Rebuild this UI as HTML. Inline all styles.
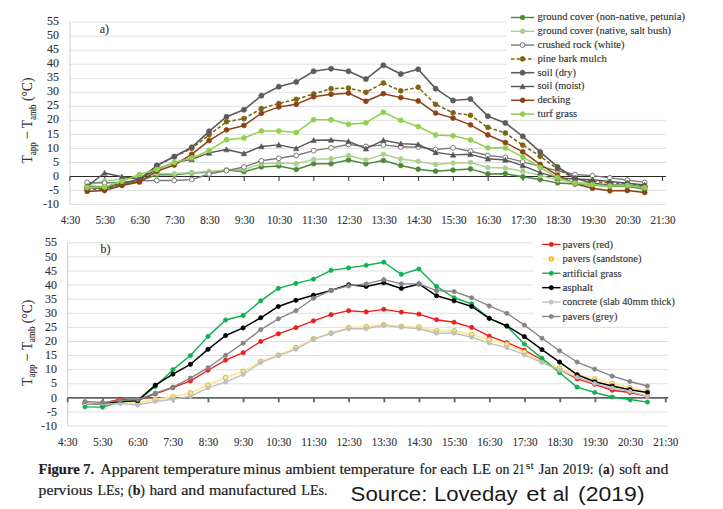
<!DOCTYPE html>
<html><head><meta charset="utf-8"><title>Figure 7</title>
<style>html,body{margin:0;padding:0;background:#fff;}body{width:723px;height:509px;position:relative;overflow:hidden;font-family:"Liberation Serif",serif;}</style></head>
<body>
<svg width="723" height="509" viewBox="0 0 723 509" font-family='"Liberation Serif", serif' style="position:absolute;left:0;top:0">
<style>text{stroke:#333;stroke-width:0.14px;stroke-linejoin:round}.cap text{stroke:#222;stroke-width:0.2px}</style>
<rect width="723" height="509" fill="#fff"/>
<line x1="69.9" y1="204.57" x2="666" y2="204.57" stroke="#e0e0e0" stroke-width="1"/>
<line x1="69.9" y1="190.53" x2="666" y2="190.53" stroke="#e0e0e0" stroke-width="1"/>
<line x1="69.9" y1="162.47" x2="666" y2="162.47" stroke="#e0e0e0" stroke-width="1"/>
<line x1="69.9" y1="148.43" x2="666" y2="148.43" stroke="#e0e0e0" stroke-width="1"/>
<line x1="69.9" y1="134.40" x2="666" y2="134.40" stroke="#e0e0e0" stroke-width="1"/>
<line x1="69.9" y1="120.36" x2="666" y2="120.36" stroke="#e0e0e0" stroke-width="1"/>
<line x1="69.9" y1="106.33" x2="666" y2="106.33" stroke="#e0e0e0" stroke-width="1"/>
<line x1="69.9" y1="92.29" x2="666" y2="92.29" stroke="#e0e0e0" stroke-width="1"/>
<line x1="69.9" y1="78.25" x2="666" y2="78.25" stroke="#e0e0e0" stroke-width="1"/>
<line x1="69.9" y1="64.22" x2="666" y2="64.22" stroke="#e0e0e0" stroke-width="1"/>
<line x1="69.9" y1="50.19" x2="666" y2="50.19" stroke="#e0e0e0" stroke-width="1"/>
<line x1="69.9" y1="36.15" x2="666" y2="36.15" stroke="#e0e0e0" stroke-width="1"/>
<line x1="69.9" y1="22.12" x2="666" y2="22.12" stroke="#e0e0e0" stroke-width="1"/>
<line x1="69.9" y1="22.12" x2="69.9" y2="204.57" stroke="#d0d0d0" stroke-width="1"/>
<rect x="506.5" y="5" width="170" height="113.5" fill="#fff"/>
<line x1="69.9" y1="176.50" x2="666" y2="176.50" stroke="#2a2a2a" stroke-width="1.0"/>
<line x1="69.90" y1="176.50" x2="69.90" y2="181.00" stroke="#2a2a2a" stroke-width="1.0"/>
<line x1="104.75" y1="176.50" x2="104.75" y2="181.00" stroke="#2a2a2a" stroke-width="1.0"/>
<line x1="139.61" y1="176.50" x2="139.61" y2="181.00" stroke="#2a2a2a" stroke-width="1.0"/>
<line x1="174.47" y1="176.50" x2="174.47" y2="181.00" stroke="#2a2a2a" stroke-width="1.0"/>
<line x1="209.32" y1="176.50" x2="209.32" y2="181.00" stroke="#2a2a2a" stroke-width="1.0"/>
<line x1="244.17" y1="176.50" x2="244.17" y2="181.00" stroke="#2a2a2a" stroke-width="1.0"/>
<line x1="279.03" y1="176.50" x2="279.03" y2="181.00" stroke="#2a2a2a" stroke-width="1.0"/>
<line x1="313.88" y1="176.50" x2="313.88" y2="181.00" stroke="#2a2a2a" stroke-width="1.0"/>
<line x1="348.74" y1="176.50" x2="348.74" y2="181.00" stroke="#2a2a2a" stroke-width="1.0"/>
<line x1="383.60" y1="176.50" x2="383.60" y2="181.00" stroke="#2a2a2a" stroke-width="1.0"/>
<line x1="418.45" y1="176.50" x2="418.45" y2="181.00" stroke="#2a2a2a" stroke-width="1.0"/>
<line x1="453.30" y1="176.50" x2="453.30" y2="181.00" stroke="#2a2a2a" stroke-width="1.0"/>
<line x1="488.16" y1="176.50" x2="488.16" y2="181.00" stroke="#2a2a2a" stroke-width="1.0"/>
<line x1="523.01" y1="176.50" x2="523.01" y2="181.00" stroke="#2a2a2a" stroke-width="1.0"/>
<line x1="557.87" y1="176.50" x2="557.87" y2="181.00" stroke="#2a2a2a" stroke-width="1.0"/>
<line x1="592.72" y1="176.50" x2="592.72" y2="181.00" stroke="#2a2a2a" stroke-width="1.0"/>
<line x1="627.58" y1="176.50" x2="627.58" y2="181.00" stroke="#2a2a2a" stroke-width="1.0"/>
<line x1="662.43" y1="176.50" x2="662.43" y2="181.00" stroke="#2a2a2a" stroke-width="1.0"/>
<text x="59" y="207.67" text-anchor="end" font-size="12" fill="#333333">-10</text>
<text x="59" y="193.63" text-anchor="end" font-size="12" fill="#333333">-5</text>
<text x="59" y="179.60" text-anchor="end" font-size="12" fill="#333333">0</text>
<text x="59" y="165.56" text-anchor="end" font-size="12" fill="#333333">5</text>
<text x="59" y="151.53" text-anchor="end" font-size="12" fill="#333333">10</text>
<text x="59" y="137.50" text-anchor="end" font-size="12" fill="#333333">15</text>
<text x="59" y="123.46" text-anchor="end" font-size="12" fill="#333333">20</text>
<text x="59" y="109.42" text-anchor="end" font-size="12" fill="#333333">25</text>
<text x="59" y="95.39" text-anchor="end" font-size="12" fill="#333333">30</text>
<text x="59" y="81.35" text-anchor="end" font-size="12" fill="#333333">35</text>
<text x="59" y="67.32" text-anchor="end" font-size="12" fill="#333333">40</text>
<text x="59" y="53.29" text-anchor="end" font-size="12" fill="#333333">45</text>
<text x="59" y="39.25" text-anchor="end" font-size="12" fill="#333333">50</text>
<text x="59" y="25.22" text-anchor="end" font-size="12" fill="#333333">55</text>
<text x="70.50" y="224.0" text-anchor="middle" font-size="12" fill="#333333" textLength="19.4" lengthAdjust="spacingAndGlyphs">4:30</text>
<text x="105.35" y="224.0" text-anchor="middle" font-size="12" fill="#333333" textLength="19.4" lengthAdjust="spacingAndGlyphs">5:30</text>
<text x="140.21" y="224.0" text-anchor="middle" font-size="12" fill="#333333" textLength="19.4" lengthAdjust="spacingAndGlyphs">6:30</text>
<text x="175.06" y="224.0" text-anchor="middle" font-size="12" fill="#333333" textLength="19.4" lengthAdjust="spacingAndGlyphs">7:30</text>
<text x="209.92" y="224.0" text-anchor="middle" font-size="12" fill="#333333" textLength="19.4" lengthAdjust="spacingAndGlyphs">8:30</text>
<text x="244.77" y="224.0" text-anchor="middle" font-size="12" fill="#333333" textLength="19.4" lengthAdjust="spacingAndGlyphs">9:30</text>
<text x="279.63" y="224.0" text-anchor="middle" font-size="12" fill="#333333" textLength="25.2" lengthAdjust="spacingAndGlyphs">10:30</text>
<text x="314.49" y="224.0" text-anchor="middle" font-size="12" fill="#333333" textLength="25.2" lengthAdjust="spacingAndGlyphs">11:30</text>
<text x="349.34" y="224.0" text-anchor="middle" font-size="12" fill="#333333" textLength="25.2" lengthAdjust="spacingAndGlyphs">12:30</text>
<text x="384.20" y="224.0" text-anchor="middle" font-size="12" fill="#333333" textLength="25.2" lengthAdjust="spacingAndGlyphs">13:30</text>
<text x="419.05" y="224.0" text-anchor="middle" font-size="12" fill="#333333" textLength="25.2" lengthAdjust="spacingAndGlyphs">14:30</text>
<text x="453.90" y="224.0" text-anchor="middle" font-size="12" fill="#333333" textLength="25.2" lengthAdjust="spacingAndGlyphs">15:30</text>
<text x="488.76" y="224.0" text-anchor="middle" font-size="12" fill="#333333" textLength="25.2" lengthAdjust="spacingAndGlyphs">16:30</text>
<text x="523.62" y="224.0" text-anchor="middle" font-size="12" fill="#333333" textLength="25.2" lengthAdjust="spacingAndGlyphs">17:30</text>
<text x="558.47" y="224.0" text-anchor="middle" font-size="12" fill="#333333" textLength="25.2" lengthAdjust="spacingAndGlyphs">18:30</text>
<text x="593.32" y="224.0" text-anchor="middle" font-size="12" fill="#333333" textLength="25.2" lengthAdjust="spacingAndGlyphs">19:30</text>
<text x="628.18" y="224.0" text-anchor="middle" font-size="12" fill="#333333" textLength="25.2" lengthAdjust="spacingAndGlyphs">20:30</text>
<text x="663.03" y="224.0" text-anchor="middle" font-size="12" fill="#333333" textLength="25.2" lengthAdjust="spacingAndGlyphs">21:30</text>
<polyline fill="none" stroke="#4c8a38" stroke-width="1.45" stroke-linejoin="round" stroke-linecap="round" points="87.12,186.32 104.55,186.61 121.98,183.52 139.40,180.71 156.82,174.82 174.25,174.82 191.68,173.13 209.10,172.29 226.53,170.04 243.95,171.73 261.38,166.96 278.80,165.97 296.23,169.48 313.65,163.73 331.07,163.73 348.50,159.94 365.93,163.87 383.35,160.50 400.77,165.55 418.20,169.20 435.62,171.17 453.05,170.04 470.48,168.92 487.90,173.97 505.32,173.69 522.75,176.78 540.18,179.59 557.60,182.96 575.03,184.08 592.45,184.92 609.88,186.32 627.30,186.32 644.73,189.41"/>
<circle cx="87.12" cy="186.32" r="2.35" fill="#4c8a38" stroke="#4c8a38" stroke-width="0.8"/>
<circle cx="104.55" cy="186.61" r="2.35" fill="#4c8a38" stroke="#4c8a38" stroke-width="0.8"/>
<circle cx="121.98" cy="183.52" r="2.35" fill="#4c8a38" stroke="#4c8a38" stroke-width="0.8"/>
<circle cx="139.40" cy="180.71" r="2.35" fill="#4c8a38" stroke="#4c8a38" stroke-width="0.8"/>
<circle cx="156.82" cy="174.82" r="2.35" fill="#4c8a38" stroke="#4c8a38" stroke-width="0.8"/>
<circle cx="174.25" cy="174.82" r="2.35" fill="#4c8a38" stroke="#4c8a38" stroke-width="0.8"/>
<circle cx="191.68" cy="173.13" r="2.35" fill="#4c8a38" stroke="#4c8a38" stroke-width="0.8"/>
<circle cx="209.10" cy="172.29" r="2.35" fill="#4c8a38" stroke="#4c8a38" stroke-width="0.8"/>
<circle cx="226.53" cy="170.04" r="2.35" fill="#4c8a38" stroke="#4c8a38" stroke-width="0.8"/>
<circle cx="243.95" cy="171.73" r="2.35" fill="#4c8a38" stroke="#4c8a38" stroke-width="0.8"/>
<circle cx="261.38" cy="166.96" r="2.35" fill="#4c8a38" stroke="#4c8a38" stroke-width="0.8"/>
<circle cx="278.80" cy="165.97" r="2.35" fill="#4c8a38" stroke="#4c8a38" stroke-width="0.8"/>
<circle cx="296.23" cy="169.48" r="2.35" fill="#4c8a38" stroke="#4c8a38" stroke-width="0.8"/>
<circle cx="313.65" cy="163.73" r="2.35" fill="#4c8a38" stroke="#4c8a38" stroke-width="0.8"/>
<circle cx="331.07" cy="163.73" r="2.35" fill="#4c8a38" stroke="#4c8a38" stroke-width="0.8"/>
<circle cx="348.50" cy="159.94" r="2.35" fill="#4c8a38" stroke="#4c8a38" stroke-width="0.8"/>
<circle cx="365.93" cy="163.87" r="2.35" fill="#4c8a38" stroke="#4c8a38" stroke-width="0.8"/>
<circle cx="383.35" cy="160.50" r="2.35" fill="#4c8a38" stroke="#4c8a38" stroke-width="0.8"/>
<circle cx="400.77" cy="165.55" r="2.35" fill="#4c8a38" stroke="#4c8a38" stroke-width="0.8"/>
<circle cx="418.20" cy="169.20" r="2.35" fill="#4c8a38" stroke="#4c8a38" stroke-width="0.8"/>
<circle cx="435.62" cy="171.17" r="2.35" fill="#4c8a38" stroke="#4c8a38" stroke-width="0.8"/>
<circle cx="453.05" cy="170.04" r="2.35" fill="#4c8a38" stroke="#4c8a38" stroke-width="0.8"/>
<circle cx="470.48" cy="168.92" r="2.35" fill="#4c8a38" stroke="#4c8a38" stroke-width="0.8"/>
<circle cx="487.90" cy="173.97" r="2.35" fill="#4c8a38" stroke="#4c8a38" stroke-width="0.8"/>
<circle cx="505.32" cy="173.69" r="2.35" fill="#4c8a38" stroke="#4c8a38" stroke-width="0.8"/>
<circle cx="522.75" cy="176.78" r="2.35" fill="#4c8a38" stroke="#4c8a38" stroke-width="0.8"/>
<circle cx="540.18" cy="179.59" r="2.35" fill="#4c8a38" stroke="#4c8a38" stroke-width="0.8"/>
<circle cx="557.60" cy="182.96" r="2.35" fill="#4c8a38" stroke="#4c8a38" stroke-width="0.8"/>
<circle cx="575.03" cy="184.08" r="2.35" fill="#4c8a38" stroke="#4c8a38" stroke-width="0.8"/>
<circle cx="592.45" cy="184.92" r="2.35" fill="#4c8a38" stroke="#4c8a38" stroke-width="0.8"/>
<circle cx="609.88" cy="186.32" r="2.35" fill="#4c8a38" stroke="#4c8a38" stroke-width="0.8"/>
<circle cx="627.30" cy="186.32" r="2.35" fill="#4c8a38" stroke="#4c8a38" stroke-width="0.8"/>
<circle cx="644.73" cy="189.41" r="2.35" fill="#4c8a38" stroke="#4c8a38" stroke-width="0.8"/>
<polyline fill="none" stroke="#a9d18e" stroke-width="1.45" stroke-linejoin="round" stroke-linecap="round" points="87.12,184.92 104.55,180.99 121.98,179.31 139.40,176.50 156.82,173.41 174.25,173.69 191.68,172.57 209.10,171.45 226.53,170.04 243.95,169.48 261.38,163.87 278.80,163.03 296.23,163.87 313.65,159.38 331.07,158.82 348.50,155.45 365.93,159.94 383.35,154.32 400.77,158.96 418.20,161.34 435.62,164.43 453.05,163.03 470.48,162.47 487.90,167.52 505.32,168.08 522.75,171.17 540.18,175.38 557.60,180.01 575.03,182.39 592.45,183.52 609.88,184.92 627.30,184.92 644.73,186.32"/>
<circle cx="87.12" cy="184.92" r="2.35" fill="#a9d18e" stroke="#a9d18e" stroke-width="0.8"/>
<circle cx="104.55" cy="180.99" r="2.35" fill="#a9d18e" stroke="#a9d18e" stroke-width="0.8"/>
<circle cx="121.98" cy="179.31" r="2.35" fill="#a9d18e" stroke="#a9d18e" stroke-width="0.8"/>
<circle cx="139.40" cy="176.50" r="2.35" fill="#a9d18e" stroke="#a9d18e" stroke-width="0.8"/>
<circle cx="156.82" cy="173.41" r="2.35" fill="#a9d18e" stroke="#a9d18e" stroke-width="0.8"/>
<circle cx="174.25" cy="173.69" r="2.35" fill="#a9d18e" stroke="#a9d18e" stroke-width="0.8"/>
<circle cx="191.68" cy="172.57" r="2.35" fill="#a9d18e" stroke="#a9d18e" stroke-width="0.8"/>
<circle cx="209.10" cy="171.45" r="2.35" fill="#a9d18e" stroke="#a9d18e" stroke-width="0.8"/>
<circle cx="226.53" cy="170.04" r="2.35" fill="#a9d18e" stroke="#a9d18e" stroke-width="0.8"/>
<circle cx="243.95" cy="169.48" r="2.35" fill="#a9d18e" stroke="#a9d18e" stroke-width="0.8"/>
<circle cx="261.38" cy="163.87" r="2.35" fill="#a9d18e" stroke="#a9d18e" stroke-width="0.8"/>
<circle cx="278.80" cy="163.03" r="2.35" fill="#a9d18e" stroke="#a9d18e" stroke-width="0.8"/>
<circle cx="296.23" cy="163.87" r="2.35" fill="#a9d18e" stroke="#a9d18e" stroke-width="0.8"/>
<circle cx="313.65" cy="159.38" r="2.35" fill="#a9d18e" stroke="#a9d18e" stroke-width="0.8"/>
<circle cx="331.07" cy="158.82" r="2.35" fill="#a9d18e" stroke="#a9d18e" stroke-width="0.8"/>
<circle cx="348.50" cy="155.45" r="2.35" fill="#a9d18e" stroke="#a9d18e" stroke-width="0.8"/>
<circle cx="365.93" cy="159.94" r="2.35" fill="#a9d18e" stroke="#a9d18e" stroke-width="0.8"/>
<circle cx="383.35" cy="154.32" r="2.35" fill="#a9d18e" stroke="#a9d18e" stroke-width="0.8"/>
<circle cx="400.77" cy="158.96" r="2.35" fill="#a9d18e" stroke="#a9d18e" stroke-width="0.8"/>
<circle cx="418.20" cy="161.34" r="2.35" fill="#a9d18e" stroke="#a9d18e" stroke-width="0.8"/>
<circle cx="435.62" cy="164.43" r="2.35" fill="#a9d18e" stroke="#a9d18e" stroke-width="0.8"/>
<circle cx="453.05" cy="163.03" r="2.35" fill="#a9d18e" stroke="#a9d18e" stroke-width="0.8"/>
<circle cx="470.48" cy="162.47" r="2.35" fill="#a9d18e" stroke="#a9d18e" stroke-width="0.8"/>
<circle cx="487.90" cy="167.52" r="2.35" fill="#a9d18e" stroke="#a9d18e" stroke-width="0.8"/>
<circle cx="505.32" cy="168.08" r="2.35" fill="#a9d18e" stroke="#a9d18e" stroke-width="0.8"/>
<circle cx="522.75" cy="171.17" r="2.35" fill="#a9d18e" stroke="#a9d18e" stroke-width="0.8"/>
<circle cx="540.18" cy="175.38" r="2.35" fill="#a9d18e" stroke="#a9d18e" stroke-width="0.8"/>
<circle cx="557.60" cy="180.01" r="2.35" fill="#a9d18e" stroke="#a9d18e" stroke-width="0.8"/>
<circle cx="575.03" cy="182.39" r="2.35" fill="#a9d18e" stroke="#a9d18e" stroke-width="0.8"/>
<circle cx="592.45" cy="183.52" r="2.35" fill="#a9d18e" stroke="#a9d18e" stroke-width="0.8"/>
<circle cx="609.88" cy="184.92" r="2.35" fill="#a9d18e" stroke="#a9d18e" stroke-width="0.8"/>
<circle cx="627.30" cy="184.92" r="2.35" fill="#a9d18e" stroke="#a9d18e" stroke-width="0.8"/>
<circle cx="644.73" cy="186.32" r="2.35" fill="#a9d18e" stroke="#a9d18e" stroke-width="0.8"/>
<polyline fill="none" stroke="#7a7a7a" stroke-width="1.4" stroke-linejoin="round" stroke-linecap="round" points="87.12,182.39 104.55,182.96 121.98,182.11 139.40,180.71 156.82,180.43 174.25,180.43 191.68,179.59 209.10,173.97 226.53,170.61 243.95,166.96 261.38,160.78 278.80,158.25 296.23,155.45 313.65,150.68 331.07,147.87 348.50,144.50 365.93,146.47 383.35,144.92 400.77,147.03 418.20,147.03 435.62,149.55 453.05,147.87 470.48,151.24 487.90,155.45 505.32,157.41 522.75,161.90 540.18,166.39 557.60,170.89 575.03,174.54 592.45,175.66 609.88,177.90 627.30,180.01 644.73,182.39"/>
<circle cx="87.12" cy="182.39" r="2.4" fill="#ffffff" stroke="#7a7a7a" stroke-width="1.0"/>
<circle cx="104.55" cy="182.96" r="2.4" fill="#ffffff" stroke="#7a7a7a" stroke-width="1.0"/>
<circle cx="121.98" cy="182.11" r="2.4" fill="#ffffff" stroke="#7a7a7a" stroke-width="1.0"/>
<circle cx="139.40" cy="180.71" r="2.4" fill="#ffffff" stroke="#7a7a7a" stroke-width="1.0"/>
<circle cx="156.82" cy="180.43" r="2.4" fill="#ffffff" stroke="#7a7a7a" stroke-width="1.0"/>
<circle cx="174.25" cy="180.43" r="2.4" fill="#ffffff" stroke="#7a7a7a" stroke-width="1.0"/>
<circle cx="191.68" cy="179.59" r="2.4" fill="#ffffff" stroke="#7a7a7a" stroke-width="1.0"/>
<circle cx="209.10" cy="173.97" r="2.4" fill="#ffffff" stroke="#7a7a7a" stroke-width="1.0"/>
<circle cx="226.53" cy="170.61" r="2.4" fill="#ffffff" stroke="#7a7a7a" stroke-width="1.0"/>
<circle cx="243.95" cy="166.96" r="2.4" fill="#ffffff" stroke="#7a7a7a" stroke-width="1.0"/>
<circle cx="261.38" cy="160.78" r="2.4" fill="#ffffff" stroke="#7a7a7a" stroke-width="1.0"/>
<circle cx="278.80" cy="158.25" r="2.4" fill="#ffffff" stroke="#7a7a7a" stroke-width="1.0"/>
<circle cx="296.23" cy="155.45" r="2.4" fill="#ffffff" stroke="#7a7a7a" stroke-width="1.0"/>
<circle cx="313.65" cy="150.68" r="2.4" fill="#ffffff" stroke="#7a7a7a" stroke-width="1.0"/>
<circle cx="331.07" cy="147.87" r="2.4" fill="#ffffff" stroke="#7a7a7a" stroke-width="1.0"/>
<circle cx="348.50" cy="144.50" r="2.4" fill="#ffffff" stroke="#7a7a7a" stroke-width="1.0"/>
<circle cx="365.93" cy="146.47" r="2.4" fill="#ffffff" stroke="#7a7a7a" stroke-width="1.0"/>
<circle cx="383.35" cy="144.92" r="2.4" fill="#ffffff" stroke="#7a7a7a" stroke-width="1.0"/>
<circle cx="400.77" cy="147.03" r="2.4" fill="#ffffff" stroke="#7a7a7a" stroke-width="1.0"/>
<circle cx="418.20" cy="147.03" r="2.4" fill="#ffffff" stroke="#7a7a7a" stroke-width="1.0"/>
<circle cx="435.62" cy="149.55" r="2.4" fill="#ffffff" stroke="#7a7a7a" stroke-width="1.0"/>
<circle cx="453.05" cy="147.87" r="2.4" fill="#ffffff" stroke="#7a7a7a" stroke-width="1.0"/>
<circle cx="470.48" cy="151.24" r="2.4" fill="#ffffff" stroke="#7a7a7a" stroke-width="1.0"/>
<circle cx="487.90" cy="155.45" r="2.4" fill="#ffffff" stroke="#7a7a7a" stroke-width="1.0"/>
<circle cx="505.32" cy="157.41" r="2.4" fill="#ffffff" stroke="#7a7a7a" stroke-width="1.0"/>
<circle cx="522.75" cy="161.90" r="2.4" fill="#ffffff" stroke="#7a7a7a" stroke-width="1.0"/>
<circle cx="540.18" cy="166.39" r="2.4" fill="#ffffff" stroke="#7a7a7a" stroke-width="1.0"/>
<circle cx="557.60" cy="170.89" r="2.4" fill="#ffffff" stroke="#7a7a7a" stroke-width="1.0"/>
<circle cx="575.03" cy="174.54" r="2.4" fill="#ffffff" stroke="#7a7a7a" stroke-width="1.0"/>
<circle cx="592.45" cy="175.66" r="2.4" fill="#ffffff" stroke="#7a7a7a" stroke-width="1.0"/>
<circle cx="609.88" cy="177.90" r="2.4" fill="#ffffff" stroke="#7a7a7a" stroke-width="1.0"/>
<circle cx="627.30" cy="180.01" r="2.4" fill="#ffffff" stroke="#7a7a7a" stroke-width="1.0"/>
<circle cx="644.73" cy="182.39" r="2.4" fill="#ffffff" stroke="#7a7a7a" stroke-width="1.0"/>
<polyline fill="none" stroke="#806410" stroke-width="1.55" stroke-linejoin="round" stroke-linecap="butt" stroke-dasharray="3.6 2.1" points="87.12,189.13 104.55,189.41 121.98,184.92 139.40,180.99 156.82,165.55 174.25,156.85 191.68,148.43 209.10,134.96 226.53,121.76 243.95,118.68 261.38,108.57 278.80,103.52 296.23,99.31 313.65,93.97 331.07,88.64 348.50,88.08 365.93,92.29 383.35,83.03 400.77,90.89 418.20,87.24 435.62,104.36 453.05,112.78 470.48,115.31 487.90,127.38 505.32,132.99 522.75,145.06 540.18,156.29 557.60,168.92 575.03,178.75 592.45,181.27 609.88,182.96 627.30,183.24 644.73,185.76"/>
<circle cx="87.12" cy="189.13" r="2.4" fill="#806410" stroke="#806410" stroke-width="0.8"/>
<circle cx="104.55" cy="189.41" r="2.4" fill="#806410" stroke="#806410" stroke-width="0.8"/>
<circle cx="121.98" cy="184.92" r="2.4" fill="#806410" stroke="#806410" stroke-width="0.8"/>
<circle cx="139.40" cy="180.99" r="2.4" fill="#806410" stroke="#806410" stroke-width="0.8"/>
<circle cx="156.82" cy="165.55" r="2.4" fill="#806410" stroke="#806410" stroke-width="0.8"/>
<circle cx="174.25" cy="156.85" r="2.4" fill="#806410" stroke="#806410" stroke-width="0.8"/>
<circle cx="191.68" cy="148.43" r="2.4" fill="#806410" stroke="#806410" stroke-width="0.8"/>
<circle cx="209.10" cy="134.96" r="2.4" fill="#806410" stroke="#806410" stroke-width="0.8"/>
<circle cx="226.53" cy="121.76" r="2.4" fill="#806410" stroke="#806410" stroke-width="0.8"/>
<circle cx="243.95" cy="118.68" r="2.4" fill="#806410" stroke="#806410" stroke-width="0.8"/>
<circle cx="261.38" cy="108.57" r="2.4" fill="#806410" stroke="#806410" stroke-width="0.8"/>
<circle cx="278.80" cy="103.52" r="2.4" fill="#806410" stroke="#806410" stroke-width="0.8"/>
<circle cx="296.23" cy="99.31" r="2.4" fill="#806410" stroke="#806410" stroke-width="0.8"/>
<circle cx="313.65" cy="93.97" r="2.4" fill="#806410" stroke="#806410" stroke-width="0.8"/>
<circle cx="331.07" cy="88.64" r="2.4" fill="#806410" stroke="#806410" stroke-width="0.8"/>
<circle cx="348.50" cy="88.08" r="2.4" fill="#806410" stroke="#806410" stroke-width="0.8"/>
<circle cx="365.93" cy="92.29" r="2.4" fill="#806410" stroke="#806410" stroke-width="0.8"/>
<circle cx="383.35" cy="83.03" r="2.4" fill="#806410" stroke="#806410" stroke-width="0.8"/>
<circle cx="400.77" cy="90.89" r="2.4" fill="#806410" stroke="#806410" stroke-width="0.8"/>
<circle cx="418.20" cy="87.24" r="2.4" fill="#806410" stroke="#806410" stroke-width="0.8"/>
<circle cx="435.62" cy="104.36" r="2.4" fill="#806410" stroke="#806410" stroke-width="0.8"/>
<circle cx="453.05" cy="112.78" r="2.4" fill="#806410" stroke="#806410" stroke-width="0.8"/>
<circle cx="470.48" cy="115.31" r="2.4" fill="#806410" stroke="#806410" stroke-width="0.8"/>
<circle cx="487.90" cy="127.38" r="2.4" fill="#806410" stroke="#806410" stroke-width="0.8"/>
<circle cx="505.32" cy="132.99" r="2.4" fill="#806410" stroke="#806410" stroke-width="0.8"/>
<circle cx="522.75" cy="145.06" r="2.4" fill="#806410" stroke="#806410" stroke-width="0.8"/>
<circle cx="540.18" cy="156.29" r="2.4" fill="#806410" stroke="#806410" stroke-width="0.8"/>
<circle cx="557.60" cy="168.92" r="2.4" fill="#806410" stroke="#806410" stroke-width="0.8"/>
<circle cx="575.03" cy="178.75" r="2.4" fill="#806410" stroke="#806410" stroke-width="0.8"/>
<circle cx="592.45" cy="181.27" r="2.4" fill="#806410" stroke="#806410" stroke-width="0.8"/>
<circle cx="609.88" cy="182.96" r="2.4" fill="#806410" stroke="#806410" stroke-width="0.8"/>
<circle cx="627.30" cy="183.24" r="2.4" fill="#806410" stroke="#806410" stroke-width="0.8"/>
<circle cx="644.73" cy="185.76" r="2.4" fill="#806410" stroke="#806410" stroke-width="0.8"/>
<polyline fill="none" stroke="#5c5c5c" stroke-width="1.6" stroke-linejoin="round" stroke-linecap="round" points="87.12,187.73 104.55,188.29 121.98,183.52 139.40,179.31 156.82,165.55 174.25,156.57 191.68,147.31 209.10,131.31 226.53,116.71 243.95,109.83 261.38,95.66 278.80,86.68 296.23,81.90 313.65,71.24 331.07,68.71 348.50,71.24 365.93,79.10 383.35,65.34 400.77,74.04 418.20,69.27 435.62,88.64 453.05,100.43 470.48,99.03 487.90,116.15 505.32,122.89 522.75,136.36 540.18,151.94 557.60,166.96 575.03,178.18 592.45,183.24 609.88,185.20 627.30,185.20 644.73,187.17"/>
<circle cx="87.12" cy="187.73" r="2.5" fill="#5c5c5c" stroke="#5c5c5c" stroke-width="0.8"/>
<circle cx="104.55" cy="188.29" r="2.5" fill="#5c5c5c" stroke="#5c5c5c" stroke-width="0.8"/>
<circle cx="121.98" cy="183.52" r="2.5" fill="#5c5c5c" stroke="#5c5c5c" stroke-width="0.8"/>
<circle cx="139.40" cy="179.31" r="2.5" fill="#5c5c5c" stroke="#5c5c5c" stroke-width="0.8"/>
<circle cx="156.82" cy="165.55" r="2.5" fill="#5c5c5c" stroke="#5c5c5c" stroke-width="0.8"/>
<circle cx="174.25" cy="156.57" r="2.5" fill="#5c5c5c" stroke="#5c5c5c" stroke-width="0.8"/>
<circle cx="191.68" cy="147.31" r="2.5" fill="#5c5c5c" stroke="#5c5c5c" stroke-width="0.8"/>
<circle cx="209.10" cy="131.31" r="2.5" fill="#5c5c5c" stroke="#5c5c5c" stroke-width="0.8"/>
<circle cx="226.53" cy="116.71" r="2.5" fill="#5c5c5c" stroke="#5c5c5c" stroke-width="0.8"/>
<circle cx="243.95" cy="109.83" r="2.5" fill="#5c5c5c" stroke="#5c5c5c" stroke-width="0.8"/>
<circle cx="261.38" cy="95.66" r="2.5" fill="#5c5c5c" stroke="#5c5c5c" stroke-width="0.8"/>
<circle cx="278.80" cy="86.68" r="2.5" fill="#5c5c5c" stroke="#5c5c5c" stroke-width="0.8"/>
<circle cx="296.23" cy="81.90" r="2.5" fill="#5c5c5c" stroke="#5c5c5c" stroke-width="0.8"/>
<circle cx="313.65" cy="71.24" r="2.5" fill="#5c5c5c" stroke="#5c5c5c" stroke-width="0.8"/>
<circle cx="331.07" cy="68.71" r="2.5" fill="#5c5c5c" stroke="#5c5c5c" stroke-width="0.8"/>
<circle cx="348.50" cy="71.24" r="2.5" fill="#5c5c5c" stroke="#5c5c5c" stroke-width="0.8"/>
<circle cx="365.93" cy="79.10" r="2.5" fill="#5c5c5c" stroke="#5c5c5c" stroke-width="0.8"/>
<circle cx="383.35" cy="65.34" r="2.5" fill="#5c5c5c" stroke="#5c5c5c" stroke-width="0.8"/>
<circle cx="400.77" cy="74.04" r="2.5" fill="#5c5c5c" stroke="#5c5c5c" stroke-width="0.8"/>
<circle cx="418.20" cy="69.27" r="2.5" fill="#5c5c5c" stroke="#5c5c5c" stroke-width="0.8"/>
<circle cx="435.62" cy="88.64" r="2.5" fill="#5c5c5c" stroke="#5c5c5c" stroke-width="0.8"/>
<circle cx="453.05" cy="100.43" r="2.5" fill="#5c5c5c" stroke="#5c5c5c" stroke-width="0.8"/>
<circle cx="470.48" cy="99.03" r="2.5" fill="#5c5c5c" stroke="#5c5c5c" stroke-width="0.8"/>
<circle cx="487.90" cy="116.15" r="2.5" fill="#5c5c5c" stroke="#5c5c5c" stroke-width="0.8"/>
<circle cx="505.32" cy="122.89" r="2.5" fill="#5c5c5c" stroke="#5c5c5c" stroke-width="0.8"/>
<circle cx="522.75" cy="136.36" r="2.5" fill="#5c5c5c" stroke="#5c5c5c" stroke-width="0.8"/>
<circle cx="540.18" cy="151.94" r="2.5" fill="#5c5c5c" stroke="#5c5c5c" stroke-width="0.8"/>
<circle cx="557.60" cy="166.96" r="2.5" fill="#5c5c5c" stroke="#5c5c5c" stroke-width="0.8"/>
<circle cx="575.03" cy="178.18" r="2.5" fill="#5c5c5c" stroke="#5c5c5c" stroke-width="0.8"/>
<circle cx="592.45" cy="183.24" r="2.5" fill="#5c5c5c" stroke="#5c5c5c" stroke-width="0.8"/>
<circle cx="609.88" cy="185.20" r="2.5" fill="#5c5c5c" stroke="#5c5c5c" stroke-width="0.8"/>
<circle cx="627.30" cy="185.20" r="2.5" fill="#5c5c5c" stroke="#5c5c5c" stroke-width="0.8"/>
<circle cx="644.73" cy="187.17" r="2.5" fill="#5c5c5c" stroke="#5c5c5c" stroke-width="0.8"/>
<polyline fill="none" stroke="#575757" stroke-width="1.4" stroke-linejoin="round" stroke-linecap="round" points="87.12,186.32 104.55,172.99 121.98,176.78 139.40,179.31 156.82,169.48 174.25,162.47 191.68,159.38 209.10,152.92 226.53,149.55 243.95,153.48 261.38,146.47 278.80,144.92 296.23,148.43 313.65,140.29 331.07,140.01 348.50,141.41 365.93,148.71 383.35,140.29 400.77,143.66 418.20,144.50 435.62,152.36 453.05,154.89 470.48,154.32 487.90,158.82 505.32,159.94 522.75,165.55 540.18,172.57 557.60,177.90 575.03,179.03 592.45,179.59 609.88,181.55 627.30,183.24 644.73,184.92"/>
<path d="M87.12,183.62 L89.83,188.62 L84.42,188.62 Z" fill="#575757" stroke="#575757" stroke-width="0.6"/>
<path d="M104.55,170.29 L107.25,175.29 L101.85,175.29 Z" fill="#575757" stroke="#575757" stroke-width="0.6"/>
<path d="M121.98,174.08 L124.68,179.08 L119.28,179.08 Z" fill="#575757" stroke="#575757" stroke-width="0.6"/>
<path d="M139.40,176.61 L142.10,181.60 L136.70,181.60 Z" fill="#575757" stroke="#575757" stroke-width="0.6"/>
<path d="M156.82,166.78 L159.52,171.78 L154.12,171.78 Z" fill="#575757" stroke="#575757" stroke-width="0.6"/>
<path d="M174.25,159.77 L176.95,164.76 L171.55,164.76 Z" fill="#575757" stroke="#575757" stroke-width="0.6"/>
<path d="M191.68,156.68 L194.38,161.67 L188.98,161.67 Z" fill="#575757" stroke="#575757" stroke-width="0.6"/>
<path d="M209.10,150.22 L211.80,155.22 L206.40,155.22 Z" fill="#575757" stroke="#575757" stroke-width="0.6"/>
<path d="M226.53,146.85 L229.23,151.85 L223.83,151.85 Z" fill="#575757" stroke="#575757" stroke-width="0.6"/>
<path d="M243.95,150.78 L246.65,155.78 L241.25,155.78 Z" fill="#575757" stroke="#575757" stroke-width="0.6"/>
<path d="M261.38,143.77 L264.07,148.76 L258.68,148.76 Z" fill="#575757" stroke="#575757" stroke-width="0.6"/>
<path d="M278.80,142.22 L281.50,147.22 L276.10,147.22 Z" fill="#575757" stroke="#575757" stroke-width="0.6"/>
<path d="M296.23,145.73 L298.93,150.72 L293.53,150.72 Z" fill="#575757" stroke="#575757" stroke-width="0.6"/>
<path d="M313.65,137.59 L316.35,142.58 L310.95,142.58 Z" fill="#575757" stroke="#575757" stroke-width="0.6"/>
<path d="M331.07,137.31 L333.77,142.30 L328.38,142.30 Z" fill="#575757" stroke="#575757" stroke-width="0.6"/>
<path d="M348.50,138.71 L351.20,143.71 L345.80,143.71 Z" fill="#575757" stroke="#575757" stroke-width="0.6"/>
<path d="M365.93,146.01 L368.62,151.01 L363.23,151.01 Z" fill="#575757" stroke="#575757" stroke-width="0.6"/>
<path d="M383.35,137.59 L386.05,142.58 L380.65,142.58 Z" fill="#575757" stroke="#575757" stroke-width="0.6"/>
<path d="M400.77,140.96 L403.47,145.95 L398.07,145.95 Z" fill="#575757" stroke="#575757" stroke-width="0.6"/>
<path d="M418.20,141.80 L420.90,146.80 L415.50,146.80 Z" fill="#575757" stroke="#575757" stroke-width="0.6"/>
<path d="M435.62,149.66 L438.32,154.65 L432.93,154.65 Z" fill="#575757" stroke="#575757" stroke-width="0.6"/>
<path d="M453.05,152.19 L455.75,157.18 L450.35,157.18 Z" fill="#575757" stroke="#575757" stroke-width="0.6"/>
<path d="M470.48,151.62 L473.18,156.62 L467.78,156.62 Z" fill="#575757" stroke="#575757" stroke-width="0.6"/>
<path d="M487.90,156.12 L490.60,161.11 L485.20,161.11 Z" fill="#575757" stroke="#575757" stroke-width="0.6"/>
<path d="M505.32,157.24 L508.02,162.23 L502.62,162.23 Z" fill="#575757" stroke="#575757" stroke-width="0.6"/>
<path d="M522.75,162.85 L525.45,167.85 L520.05,167.85 Z" fill="#575757" stroke="#575757" stroke-width="0.6"/>
<path d="M540.18,169.87 L542.88,174.87 L537.48,174.87 Z" fill="#575757" stroke="#575757" stroke-width="0.6"/>
<path d="M557.60,175.20 L560.30,180.20 L554.90,180.20 Z" fill="#575757" stroke="#575757" stroke-width="0.6"/>
<path d="M575.03,176.33 L577.73,181.32 L572.33,181.32 Z" fill="#575757" stroke="#575757" stroke-width="0.6"/>
<path d="M592.45,176.89 L595.15,181.88 L589.75,181.88 Z" fill="#575757" stroke="#575757" stroke-width="0.6"/>
<path d="M609.88,178.85 L612.58,183.85 L607.18,183.85 Z" fill="#575757" stroke="#575757" stroke-width="0.6"/>
<path d="M627.30,180.54 L630.00,185.53 L624.60,185.53 Z" fill="#575757" stroke="#575757" stroke-width="0.6"/>
<path d="M644.73,182.22 L647.43,187.22 L642.02,187.22 Z" fill="#575757" stroke="#575757" stroke-width="0.6"/>
<polyline fill="none" stroke="#8b4216" stroke-width="1.5" stroke-linejoin="round" stroke-linecap="round" points="87.12,191.38 104.55,190.53 121.98,185.48 139.40,182.11 156.82,171.17 174.25,164.99 191.68,154.32 209.10,140.57 226.53,129.90 243.95,125.41 261.38,113.34 278.80,106.89 296.23,104.36 313.65,96.78 331.07,94.25 348.50,93.13 365.93,101.27 383.35,93.69 400.77,97.62 418.20,100.99 435.62,113.06 453.05,118.11 470.48,124.85 487.90,134.96 505.32,142.54 522.75,151.94 540.18,164.43 557.60,175.38 575.03,183.80 592.45,188.29 609.88,190.82 627.30,190.53 644.73,192.50"/>
<circle cx="87.12" cy="191.38" r="2.4" fill="#8b4216" stroke="#8b4216" stroke-width="0.8"/>
<circle cx="104.55" cy="190.53" r="2.4" fill="#8b4216" stroke="#8b4216" stroke-width="0.8"/>
<circle cx="121.98" cy="185.48" r="2.4" fill="#8b4216" stroke="#8b4216" stroke-width="0.8"/>
<circle cx="139.40" cy="182.11" r="2.4" fill="#8b4216" stroke="#8b4216" stroke-width="0.8"/>
<circle cx="156.82" cy="171.17" r="2.4" fill="#8b4216" stroke="#8b4216" stroke-width="0.8"/>
<circle cx="174.25" cy="164.99" r="2.4" fill="#8b4216" stroke="#8b4216" stroke-width="0.8"/>
<circle cx="191.68" cy="154.32" r="2.4" fill="#8b4216" stroke="#8b4216" stroke-width="0.8"/>
<circle cx="209.10" cy="140.57" r="2.4" fill="#8b4216" stroke="#8b4216" stroke-width="0.8"/>
<circle cx="226.53" cy="129.90" r="2.4" fill="#8b4216" stroke="#8b4216" stroke-width="0.8"/>
<circle cx="243.95" cy="125.41" r="2.4" fill="#8b4216" stroke="#8b4216" stroke-width="0.8"/>
<circle cx="261.38" cy="113.34" r="2.4" fill="#8b4216" stroke="#8b4216" stroke-width="0.8"/>
<circle cx="278.80" cy="106.89" r="2.4" fill="#8b4216" stroke="#8b4216" stroke-width="0.8"/>
<circle cx="296.23" cy="104.36" r="2.4" fill="#8b4216" stroke="#8b4216" stroke-width="0.8"/>
<circle cx="313.65" cy="96.78" r="2.4" fill="#8b4216" stroke="#8b4216" stroke-width="0.8"/>
<circle cx="331.07" cy="94.25" r="2.4" fill="#8b4216" stroke="#8b4216" stroke-width="0.8"/>
<circle cx="348.50" cy="93.13" r="2.4" fill="#8b4216" stroke="#8b4216" stroke-width="0.8"/>
<circle cx="365.93" cy="101.27" r="2.4" fill="#8b4216" stroke="#8b4216" stroke-width="0.8"/>
<circle cx="383.35" cy="93.69" r="2.4" fill="#8b4216" stroke="#8b4216" stroke-width="0.8"/>
<circle cx="400.77" cy="97.62" r="2.4" fill="#8b4216" stroke="#8b4216" stroke-width="0.8"/>
<circle cx="418.20" cy="100.99" r="2.4" fill="#8b4216" stroke="#8b4216" stroke-width="0.8"/>
<circle cx="435.62" cy="113.06" r="2.4" fill="#8b4216" stroke="#8b4216" stroke-width="0.8"/>
<circle cx="453.05" cy="118.11" r="2.4" fill="#8b4216" stroke="#8b4216" stroke-width="0.8"/>
<circle cx="470.48" cy="124.85" r="2.4" fill="#8b4216" stroke="#8b4216" stroke-width="0.8"/>
<circle cx="487.90" cy="134.96" r="2.4" fill="#8b4216" stroke="#8b4216" stroke-width="0.8"/>
<circle cx="505.32" cy="142.54" r="2.4" fill="#8b4216" stroke="#8b4216" stroke-width="0.8"/>
<circle cx="522.75" cy="151.94" r="2.4" fill="#8b4216" stroke="#8b4216" stroke-width="0.8"/>
<circle cx="540.18" cy="164.43" r="2.4" fill="#8b4216" stroke="#8b4216" stroke-width="0.8"/>
<circle cx="557.60" cy="175.38" r="2.4" fill="#8b4216" stroke="#8b4216" stroke-width="0.8"/>
<circle cx="575.03" cy="183.80" r="2.4" fill="#8b4216" stroke="#8b4216" stroke-width="0.8"/>
<circle cx="592.45" cy="188.29" r="2.4" fill="#8b4216" stroke="#8b4216" stroke-width="0.8"/>
<circle cx="609.88" cy="190.82" r="2.4" fill="#8b4216" stroke="#8b4216" stroke-width="0.8"/>
<circle cx="627.30" cy="190.53" r="2.4" fill="#8b4216" stroke="#8b4216" stroke-width="0.8"/>
<circle cx="644.73" cy="192.50" r="2.4" fill="#8b4216" stroke="#8b4216" stroke-width="0.8"/>
<polyline fill="none" stroke="#92d050" stroke-width="1.55" stroke-linejoin="round" stroke-linecap="round" points="87.12,187.45 104.55,187.03 121.98,181.27 139.40,174.54 156.82,169.48 174.25,162.47 191.68,157.97 209.10,150.39 226.53,139.73 243.95,138.04 261.38,131.03 278.80,131.03 296.23,132.43 313.65,119.80 331.07,119.80 348.50,124.29 365.93,122.89 383.35,112.22 400.77,120.36 418.20,126.54 435.62,134.96 453.05,135.80 470.48,140.01 487.90,147.87 505.32,147.87 522.75,156.85 540.18,167.52 557.60,177.62 575.03,183.24 592.45,184.64 609.88,186.04 627.30,185.48 644.73,187.73"/>
<circle cx="87.12" cy="187.45" r="2.45" fill="#92d050" stroke="#92d050" stroke-width="0.8"/>
<circle cx="104.55" cy="187.03" r="2.45" fill="#92d050" stroke="#92d050" stroke-width="0.8"/>
<circle cx="121.98" cy="181.27" r="2.45" fill="#92d050" stroke="#92d050" stroke-width="0.8"/>
<circle cx="139.40" cy="174.54" r="2.45" fill="#92d050" stroke="#92d050" stroke-width="0.8"/>
<circle cx="156.82" cy="169.48" r="2.45" fill="#92d050" stroke="#92d050" stroke-width="0.8"/>
<circle cx="174.25" cy="162.47" r="2.45" fill="#92d050" stroke="#92d050" stroke-width="0.8"/>
<circle cx="191.68" cy="157.97" r="2.45" fill="#92d050" stroke="#92d050" stroke-width="0.8"/>
<circle cx="209.10" cy="150.39" r="2.45" fill="#92d050" stroke="#92d050" stroke-width="0.8"/>
<circle cx="226.53" cy="139.73" r="2.45" fill="#92d050" stroke="#92d050" stroke-width="0.8"/>
<circle cx="243.95" cy="138.04" r="2.45" fill="#92d050" stroke="#92d050" stroke-width="0.8"/>
<circle cx="261.38" cy="131.03" r="2.45" fill="#92d050" stroke="#92d050" stroke-width="0.8"/>
<circle cx="278.80" cy="131.03" r="2.45" fill="#92d050" stroke="#92d050" stroke-width="0.8"/>
<circle cx="296.23" cy="132.43" r="2.45" fill="#92d050" stroke="#92d050" stroke-width="0.8"/>
<circle cx="313.65" cy="119.80" r="2.45" fill="#92d050" stroke="#92d050" stroke-width="0.8"/>
<circle cx="331.07" cy="119.80" r="2.45" fill="#92d050" stroke="#92d050" stroke-width="0.8"/>
<circle cx="348.50" cy="124.29" r="2.45" fill="#92d050" stroke="#92d050" stroke-width="0.8"/>
<circle cx="365.93" cy="122.89" r="2.45" fill="#92d050" stroke="#92d050" stroke-width="0.8"/>
<circle cx="383.35" cy="112.22" r="2.45" fill="#92d050" stroke="#92d050" stroke-width="0.8"/>
<circle cx="400.77" cy="120.36" r="2.45" fill="#92d050" stroke="#92d050" stroke-width="0.8"/>
<circle cx="418.20" cy="126.54" r="2.45" fill="#92d050" stroke="#92d050" stroke-width="0.8"/>
<circle cx="435.62" cy="134.96" r="2.45" fill="#92d050" stroke="#92d050" stroke-width="0.8"/>
<circle cx="453.05" cy="135.80" r="2.45" fill="#92d050" stroke="#92d050" stroke-width="0.8"/>
<circle cx="470.48" cy="140.01" r="2.45" fill="#92d050" stroke="#92d050" stroke-width="0.8"/>
<circle cx="487.90" cy="147.87" r="2.45" fill="#92d050" stroke="#92d050" stroke-width="0.8"/>
<circle cx="505.32" cy="147.87" r="2.45" fill="#92d050" stroke="#92d050" stroke-width="0.8"/>
<circle cx="522.75" cy="156.85" r="2.45" fill="#92d050" stroke="#92d050" stroke-width="0.8"/>
<circle cx="540.18" cy="167.52" r="2.45" fill="#92d050" stroke="#92d050" stroke-width="0.8"/>
<circle cx="557.60" cy="177.62" r="2.45" fill="#92d050" stroke="#92d050" stroke-width="0.8"/>
<circle cx="575.03" cy="183.24" r="2.45" fill="#92d050" stroke="#92d050" stroke-width="0.8"/>
<circle cx="592.45" cy="184.64" r="2.45" fill="#92d050" stroke="#92d050" stroke-width="0.8"/>
<circle cx="609.88" cy="186.04" r="2.45" fill="#92d050" stroke="#92d050" stroke-width="0.8"/>
<circle cx="627.30" cy="185.48" r="2.45" fill="#92d050" stroke="#92d050" stroke-width="0.8"/>
<circle cx="644.73" cy="187.73" r="2.45" fill="#92d050" stroke="#92d050" stroke-width="0.8"/>
<line x1="511" y1="17.50" x2="534.3" y2="17.50" stroke="#4c8a38" stroke-width="1.45"/>
<circle cx="522.60" cy="17.50" r="2.35" fill="#4c8a38" stroke="#4c8a38" stroke-width="0.8"/>
<text x="537.5" y="20.40" font-size="10.6" fill="#333333" textLength="147.5" lengthAdjust="spacingAndGlyphs">ground cover (non-native, petunia)</text>
<line x1="511" y1="31.30" x2="534.3" y2="31.30" stroke="#a9d18e" stroke-width="1.45"/>
<circle cx="522.60" cy="31.30" r="2.35" fill="#a9d18e" stroke="#a9d18e" stroke-width="0.8"/>
<text x="537.5" y="34.20" font-size="10.6" fill="#333333" textLength="133.5" lengthAdjust="spacingAndGlyphs">ground cover (native, salt bush)</text>
<line x1="511" y1="45.10" x2="534.3" y2="45.10" stroke="#7a7a7a" stroke-width="1.4"/>
<circle cx="522.60" cy="45.10" r="2.4" fill="#ffffff" stroke="#7a7a7a" stroke-width="1.0"/>
<text x="537.5" y="48.00" font-size="10.6" fill="#333333" textLength="87" lengthAdjust="spacingAndGlyphs">crushed rock (white)</text>
<line x1="511" y1="58.90" x2="534.3" y2="58.90" stroke="#806410" stroke-width="1.55" stroke-dasharray="3.6 2.1"/>
<circle cx="522.60" cy="58.90" r="2.4" fill="#806410" stroke="#806410" stroke-width="0.8"/>
<text x="537.5" y="61.80" font-size="10.6" fill="#333333" textLength="69.25" lengthAdjust="spacingAndGlyphs">pine bark mulch</text>
<line x1="511" y1="72.70" x2="534.3" y2="72.70" stroke="#5c5c5c" stroke-width="1.6"/>
<circle cx="522.60" cy="72.70" r="2.5" fill="#5c5c5c" stroke="#5c5c5c" stroke-width="0.8"/>
<text x="537.5" y="75.60" font-size="10.6" fill="#333333" textLength="38.5" lengthAdjust="spacingAndGlyphs">soil (dry)</text>
<line x1="511" y1="86.50" x2="534.3" y2="86.50" stroke="#575757" stroke-width="1.4"/>
<path d="M522.60,83.80 L525.30,88.80 L519.90,88.80 Z" fill="#575757" stroke="#575757" stroke-width="0.6"/>
<text x="537.5" y="89.40" font-size="10.6" fill="#333333" textLength="47" lengthAdjust="spacingAndGlyphs">soil (moist)</text>
<line x1="511" y1="100.30" x2="534.3" y2="100.30" stroke="#8b4216" stroke-width="1.5"/>
<circle cx="522.60" cy="100.30" r="2.4" fill="#8b4216" stroke="#8b4216" stroke-width="0.8"/>
<text x="537.5" y="103.20" font-size="10.6" fill="#333333" textLength="33" lengthAdjust="spacingAndGlyphs">decking</text>
<line x1="511" y1="114.10" x2="534.3" y2="114.10" stroke="#92d050" stroke-width="1.55"/>
<circle cx="522.60" cy="114.10" r="2.45" fill="#92d050" stroke="#92d050" stroke-width="0.8"/>
<text x="537.5" y="117.00" font-size="10.6" fill="#333333" textLength="39.75" lengthAdjust="spacingAndGlyphs">turf grass</text>
<line x1="67.7" y1="426.05" x2="668.2" y2="426.05" stroke="#e0e0e0" stroke-width="1"/>
<line x1="67.7" y1="411.95" x2="668.2" y2="411.95" stroke="#e0e0e0" stroke-width="1"/>
<line x1="67.7" y1="383.75" x2="668.2" y2="383.75" stroke="#e0e0e0" stroke-width="1"/>
<line x1="67.7" y1="369.65" x2="668.2" y2="369.65" stroke="#e0e0e0" stroke-width="1"/>
<line x1="67.7" y1="355.55" x2="668.2" y2="355.55" stroke="#e0e0e0" stroke-width="1"/>
<line x1="67.7" y1="341.45" x2="668.2" y2="341.45" stroke="#e0e0e0" stroke-width="1"/>
<line x1="67.7" y1="327.35" x2="668.2" y2="327.35" stroke="#e0e0e0" stroke-width="1"/>
<line x1="67.7" y1="313.25" x2="668.2" y2="313.25" stroke="#e0e0e0" stroke-width="1"/>
<line x1="67.7" y1="299.15" x2="668.2" y2="299.15" stroke="#e0e0e0" stroke-width="1"/>
<line x1="67.7" y1="285.05" x2="668.2" y2="285.05" stroke="#e0e0e0" stroke-width="1"/>
<line x1="67.7" y1="270.95" x2="668.2" y2="270.95" stroke="#e0e0e0" stroke-width="1"/>
<line x1="67.7" y1="256.85" x2="668.2" y2="256.85" stroke="#e0e0e0" stroke-width="1"/>
<line x1="67.7" y1="242.75" x2="668.2" y2="242.75" stroke="#e0e0e0" stroke-width="1"/>
<line x1="67.7" y1="242.75" x2="67.7" y2="426.05" stroke="#d0d0d0" stroke-width="1"/>
<rect x="533.5" y="232" width="150" height="88" fill="#fff"/>
<line x1="67.7" y1="397.85" x2="668.2" y2="397.85" stroke="#636363" stroke-width="1.8"/>
<line x1="67.70" y1="397.85" x2="67.70" y2="402.35" stroke="#636363" stroke-width="1.8"/>
<line x1="102.88" y1="397.85" x2="102.88" y2="402.35" stroke="#636363" stroke-width="1.8"/>
<line x1="138.06" y1="397.85" x2="138.06" y2="402.35" stroke="#636363" stroke-width="1.8"/>
<line x1="173.24" y1="397.85" x2="173.24" y2="402.35" stroke="#636363" stroke-width="1.8"/>
<line x1="208.42" y1="397.85" x2="208.42" y2="402.35" stroke="#636363" stroke-width="1.8"/>
<line x1="243.60" y1="397.85" x2="243.60" y2="402.35" stroke="#636363" stroke-width="1.8"/>
<line x1="278.78" y1="397.85" x2="278.78" y2="402.35" stroke="#636363" stroke-width="1.8"/>
<line x1="313.96" y1="397.85" x2="313.96" y2="402.35" stroke="#636363" stroke-width="1.8"/>
<line x1="349.14" y1="397.85" x2="349.14" y2="402.35" stroke="#636363" stroke-width="1.8"/>
<line x1="384.32" y1="397.85" x2="384.32" y2="402.35" stroke="#636363" stroke-width="1.8"/>
<line x1="419.50" y1="397.85" x2="419.50" y2="402.35" stroke="#636363" stroke-width="1.8"/>
<line x1="454.68" y1="397.85" x2="454.68" y2="402.35" stroke="#636363" stroke-width="1.8"/>
<line x1="489.86" y1="397.85" x2="489.86" y2="402.35" stroke="#636363" stroke-width="1.8"/>
<line x1="525.04" y1="397.85" x2="525.04" y2="402.35" stroke="#636363" stroke-width="1.8"/>
<line x1="560.22" y1="397.85" x2="560.22" y2="402.35" stroke="#636363" stroke-width="1.8"/>
<line x1="595.40" y1="397.85" x2="595.40" y2="402.35" stroke="#636363" stroke-width="1.8"/>
<line x1="630.58" y1="397.85" x2="630.58" y2="402.35" stroke="#636363" stroke-width="1.8"/>
<line x1="665.76" y1="397.85" x2="665.76" y2="402.35" stroke="#636363" stroke-width="1.8"/>
<text x="57" y="429.75" text-anchor="end" font-size="12" fill="#333333">-10</text>
<text x="57" y="415.65" text-anchor="end" font-size="12" fill="#333333">-5</text>
<text x="57" y="401.55" text-anchor="end" font-size="12" fill="#333333">0</text>
<text x="57" y="387.45" text-anchor="end" font-size="12" fill="#333333">5</text>
<text x="57" y="373.35" text-anchor="end" font-size="12" fill="#333333">10</text>
<text x="57" y="359.25" text-anchor="end" font-size="12" fill="#333333">15</text>
<text x="57" y="345.15" text-anchor="end" font-size="12" fill="#333333">20</text>
<text x="57" y="331.05" text-anchor="end" font-size="12" fill="#333333">25</text>
<text x="57" y="316.95" text-anchor="end" font-size="12" fill="#333333">30</text>
<text x="57" y="302.85" text-anchor="end" font-size="12" fill="#333333">35</text>
<text x="57" y="288.75" text-anchor="end" font-size="12" fill="#333333">40</text>
<text x="57" y="274.65" text-anchor="end" font-size="12" fill="#333333">45</text>
<text x="57" y="260.55" text-anchor="end" font-size="12" fill="#333333">50</text>
<text x="57" y="246.45" text-anchor="end" font-size="12" fill="#333333">55</text>
<text x="67.70" y="445.8" text-anchor="middle" font-size="12" fill="#333333" textLength="19.4" lengthAdjust="spacingAndGlyphs">4:30</text>
<text x="102.88" y="445.8" text-anchor="middle" font-size="12" fill="#333333" textLength="19.4" lengthAdjust="spacingAndGlyphs">5:30</text>
<text x="138.06" y="445.8" text-anchor="middle" font-size="12" fill="#333333" textLength="19.4" lengthAdjust="spacingAndGlyphs">6:30</text>
<text x="173.24" y="445.8" text-anchor="middle" font-size="12" fill="#333333" textLength="19.4" lengthAdjust="spacingAndGlyphs">7:30</text>
<text x="208.42" y="445.8" text-anchor="middle" font-size="12" fill="#333333" textLength="19.4" lengthAdjust="spacingAndGlyphs">8:30</text>
<text x="243.60" y="445.8" text-anchor="middle" font-size="12" fill="#333333" textLength="19.4" lengthAdjust="spacingAndGlyphs">9:30</text>
<text x="278.78" y="445.8" text-anchor="middle" font-size="12" fill="#333333" textLength="25.2" lengthAdjust="spacingAndGlyphs">10:30</text>
<text x="313.96" y="445.8" text-anchor="middle" font-size="12" fill="#333333" textLength="25.2" lengthAdjust="spacingAndGlyphs">11:30</text>
<text x="349.14" y="445.8" text-anchor="middle" font-size="12" fill="#333333" textLength="25.2" lengthAdjust="spacingAndGlyphs">12:30</text>
<text x="384.32" y="445.8" text-anchor="middle" font-size="12" fill="#333333" textLength="25.2" lengthAdjust="spacingAndGlyphs">13:30</text>
<text x="419.50" y="445.8" text-anchor="middle" font-size="12" fill="#333333" textLength="25.2" lengthAdjust="spacingAndGlyphs">14:30</text>
<text x="454.68" y="445.8" text-anchor="middle" font-size="12" fill="#333333" textLength="25.2" lengthAdjust="spacingAndGlyphs">15:30</text>
<text x="489.86" y="445.8" text-anchor="middle" font-size="12" fill="#333333" textLength="25.2" lengthAdjust="spacingAndGlyphs">16:30</text>
<text x="525.04" y="445.8" text-anchor="middle" font-size="12" fill="#333333" textLength="25.2" lengthAdjust="spacingAndGlyphs">17:30</text>
<text x="560.22" y="445.8" text-anchor="middle" font-size="12" fill="#333333" textLength="25.2" lengthAdjust="spacingAndGlyphs">18:30</text>
<text x="595.40" y="445.8" text-anchor="middle" font-size="12" fill="#333333" textLength="25.2" lengthAdjust="spacingAndGlyphs">19:30</text>
<text x="630.58" y="445.8" text-anchor="middle" font-size="12" fill="#333333" textLength="25.2" lengthAdjust="spacingAndGlyphs">20:30</text>
<text x="665.76" y="445.8" text-anchor="middle" font-size="12" fill="#333333" textLength="25.2" lengthAdjust="spacingAndGlyphs">21:30</text>
<polyline fill="none" stroke="#ee1c1c" stroke-width="1.35" stroke-linejoin="round" stroke-linecap="round" points="85.00,403.49 102.57,403.49 120.15,399.26 137.72,400.67 155.30,393.90 172.88,387.70 190.45,380.93 208.03,370.21 225.60,360.06 243.18,352.73 260.76,341.45 278.33,333.84 295.91,327.63 313.48,320.86 331.06,314.66 348.64,310.71 366.21,311.84 383.79,309.30 401.36,312.12 418.94,314.10 436.52,319.74 454.09,322.27 471.67,327.35 489.24,336.09 506.82,342.58 524.40,350.19 541.97,360.06 559.55,369.65 577.12,378.96 594.70,384.31 612.28,390.24 629.85,392.49 647.43,396.44"/>
<circle cx="85.00" cy="403.49" r="2.1" fill="#ee1c1c" stroke="#ee1c1c" stroke-width="0.8"/>
<circle cx="102.57" cy="403.49" r="2.1" fill="#ee1c1c" stroke="#ee1c1c" stroke-width="0.8"/>
<circle cx="120.15" cy="399.26" r="2.1" fill="#ee1c1c" stroke="#ee1c1c" stroke-width="0.8"/>
<circle cx="137.72" cy="400.67" r="2.1" fill="#ee1c1c" stroke="#ee1c1c" stroke-width="0.8"/>
<circle cx="155.30" cy="393.90" r="2.1" fill="#ee1c1c" stroke="#ee1c1c" stroke-width="0.8"/>
<circle cx="172.88" cy="387.70" r="2.1" fill="#ee1c1c" stroke="#ee1c1c" stroke-width="0.8"/>
<circle cx="190.45" cy="380.93" r="2.1" fill="#ee1c1c" stroke="#ee1c1c" stroke-width="0.8"/>
<circle cx="208.03" cy="370.21" r="2.1" fill="#ee1c1c" stroke="#ee1c1c" stroke-width="0.8"/>
<circle cx="225.60" cy="360.06" r="2.1" fill="#ee1c1c" stroke="#ee1c1c" stroke-width="0.8"/>
<circle cx="243.18" cy="352.73" r="2.1" fill="#ee1c1c" stroke="#ee1c1c" stroke-width="0.8"/>
<circle cx="260.76" cy="341.45" r="2.1" fill="#ee1c1c" stroke="#ee1c1c" stroke-width="0.8"/>
<circle cx="278.33" cy="333.84" r="2.1" fill="#ee1c1c" stroke="#ee1c1c" stroke-width="0.8"/>
<circle cx="295.91" cy="327.63" r="2.1" fill="#ee1c1c" stroke="#ee1c1c" stroke-width="0.8"/>
<circle cx="313.48" cy="320.86" r="2.1" fill="#ee1c1c" stroke="#ee1c1c" stroke-width="0.8"/>
<circle cx="331.06" cy="314.66" r="2.1" fill="#ee1c1c" stroke="#ee1c1c" stroke-width="0.8"/>
<circle cx="348.64" cy="310.71" r="2.1" fill="#ee1c1c" stroke="#ee1c1c" stroke-width="0.8"/>
<circle cx="366.21" cy="311.84" r="2.1" fill="#ee1c1c" stroke="#ee1c1c" stroke-width="0.8"/>
<circle cx="383.79" cy="309.30" r="2.1" fill="#ee1c1c" stroke="#ee1c1c" stroke-width="0.8"/>
<circle cx="401.36" cy="312.12" r="2.1" fill="#ee1c1c" stroke="#ee1c1c" stroke-width="0.8"/>
<circle cx="418.94" cy="314.10" r="2.1" fill="#ee1c1c" stroke="#ee1c1c" stroke-width="0.8"/>
<circle cx="436.52" cy="319.74" r="2.1" fill="#ee1c1c" stroke="#ee1c1c" stroke-width="0.8"/>
<circle cx="454.09" cy="322.27" r="2.1" fill="#ee1c1c" stroke="#ee1c1c" stroke-width="0.8"/>
<circle cx="471.67" cy="327.35" r="2.1" fill="#ee1c1c" stroke="#ee1c1c" stroke-width="0.8"/>
<circle cx="489.24" cy="336.09" r="2.1" fill="#ee1c1c" stroke="#ee1c1c" stroke-width="0.8"/>
<circle cx="506.82" cy="342.58" r="2.1" fill="#ee1c1c" stroke="#ee1c1c" stroke-width="0.8"/>
<circle cx="524.40" cy="350.19" r="2.1" fill="#ee1c1c" stroke="#ee1c1c" stroke-width="0.8"/>
<circle cx="541.97" cy="360.06" r="2.1" fill="#ee1c1c" stroke="#ee1c1c" stroke-width="0.8"/>
<circle cx="559.55" cy="369.65" r="2.1" fill="#ee1c1c" stroke="#ee1c1c" stroke-width="0.8"/>
<circle cx="577.12" cy="378.96" r="2.1" fill="#ee1c1c" stroke="#ee1c1c" stroke-width="0.8"/>
<circle cx="594.70" cy="384.31" r="2.1" fill="#ee1c1c" stroke="#ee1c1c" stroke-width="0.8"/>
<circle cx="612.28" cy="390.24" r="2.1" fill="#ee1c1c" stroke="#ee1c1c" stroke-width="0.8"/>
<circle cx="629.85" cy="392.49" r="2.1" fill="#ee1c1c" stroke="#ee1c1c" stroke-width="0.8"/>
<circle cx="647.43" cy="396.44" r="2.1" fill="#ee1c1c" stroke="#ee1c1c" stroke-width="0.8"/>
<polyline fill="none" stroke="#fae9a2" stroke-width="1.9" stroke-linejoin="round" stroke-linecap="round" points="85.00,403.49 102.57,403.49 120.15,402.08 137.72,403.21 155.30,399.54 172.88,397.00 190.45,393.06 208.03,385.16 225.60,377.55 243.18,371.34 260.76,361.47 278.33,355.27 295.91,347.65 313.48,338.91 331.06,333.27 348.64,327.63 366.21,326.79 383.79,324.81 401.36,326.50 418.94,327.07 436.52,331.02 454.09,331.02 471.67,334.68 489.24,339.76 506.82,344.27 524.40,352.17 541.97,361.47 559.55,368.24 577.12,374.73 594.70,378.96 612.28,383.75 629.85,387.70 647.43,391.36"/>
<circle cx="85.00" cy="403.49" r="2.45" fill="#f6e79a" stroke="#d6b444" stroke-width="0.95"/>
<circle cx="102.57" cy="403.49" r="2.45" fill="#f6e79a" stroke="#d6b444" stroke-width="0.95"/>
<circle cx="120.15" cy="402.08" r="2.45" fill="#f6e79a" stroke="#d6b444" stroke-width="0.95"/>
<circle cx="137.72" cy="403.21" r="2.45" fill="#f6e79a" stroke="#d6b444" stroke-width="0.95"/>
<circle cx="155.30" cy="399.54" r="2.45" fill="#f6e79a" stroke="#d6b444" stroke-width="0.95"/>
<circle cx="172.88" cy="397.00" r="2.45" fill="#f6e79a" stroke="#d6b444" stroke-width="0.95"/>
<circle cx="190.45" cy="393.06" r="2.45" fill="#f6e79a" stroke="#d6b444" stroke-width="0.95"/>
<circle cx="208.03" cy="385.16" r="2.45" fill="#f6e79a" stroke="#d6b444" stroke-width="0.95"/>
<circle cx="225.60" cy="377.55" r="2.45" fill="#f6e79a" stroke="#d6b444" stroke-width="0.95"/>
<circle cx="243.18" cy="371.34" r="2.45" fill="#f6e79a" stroke="#d6b444" stroke-width="0.95"/>
<circle cx="260.76" cy="361.47" r="2.45" fill="#f6e79a" stroke="#d6b444" stroke-width="0.95"/>
<circle cx="278.33" cy="355.27" r="2.45" fill="#f6e79a" stroke="#d6b444" stroke-width="0.95"/>
<circle cx="295.91" cy="347.65" r="2.45" fill="#f6e79a" stroke="#d6b444" stroke-width="0.95"/>
<circle cx="313.48" cy="338.91" r="2.45" fill="#f6e79a" stroke="#d6b444" stroke-width="0.95"/>
<circle cx="331.06" cy="333.27" r="2.45" fill="#f6e79a" stroke="#d6b444" stroke-width="0.95"/>
<circle cx="348.64" cy="327.63" r="2.45" fill="#f6e79a" stroke="#d6b444" stroke-width="0.95"/>
<circle cx="366.21" cy="326.79" r="2.45" fill="#f6e79a" stroke="#d6b444" stroke-width="0.95"/>
<circle cx="383.79" cy="324.81" r="2.45" fill="#f6e79a" stroke="#d6b444" stroke-width="0.95"/>
<circle cx="401.36" cy="326.50" r="2.45" fill="#f6e79a" stroke="#d6b444" stroke-width="0.95"/>
<circle cx="418.94" cy="327.07" r="2.45" fill="#f6e79a" stroke="#d6b444" stroke-width="0.95"/>
<circle cx="436.52" cy="331.02" r="2.45" fill="#f6e79a" stroke="#d6b444" stroke-width="0.95"/>
<circle cx="454.09" cy="331.02" r="2.45" fill="#f6e79a" stroke="#d6b444" stroke-width="0.95"/>
<circle cx="471.67" cy="334.68" r="2.45" fill="#f6e79a" stroke="#d6b444" stroke-width="0.95"/>
<circle cx="489.24" cy="339.76" r="2.45" fill="#f6e79a" stroke="#d6b444" stroke-width="0.95"/>
<circle cx="506.82" cy="344.27" r="2.45" fill="#f6e79a" stroke="#d6b444" stroke-width="0.95"/>
<circle cx="524.40" cy="352.17" r="2.45" fill="#f6e79a" stroke="#d6b444" stroke-width="0.95"/>
<circle cx="541.97" cy="361.47" r="2.45" fill="#f6e79a" stroke="#d6b444" stroke-width="0.95"/>
<circle cx="559.55" cy="368.24" r="2.45" fill="#f6e79a" stroke="#d6b444" stroke-width="0.95"/>
<circle cx="577.12" cy="374.73" r="2.45" fill="#f6e79a" stroke="#d6b444" stroke-width="0.95"/>
<circle cx="594.70" cy="378.96" r="2.45" fill="#f6e79a" stroke="#d6b444" stroke-width="0.95"/>
<circle cx="612.28" cy="383.75" r="2.45" fill="#f6e79a" stroke="#d6b444" stroke-width="0.95"/>
<circle cx="629.85" cy="387.70" r="2.45" fill="#f6e79a" stroke="#d6b444" stroke-width="0.95"/>
<circle cx="647.43" cy="391.36" r="2.45" fill="#f6e79a" stroke="#d6b444" stroke-width="0.95"/>
<polyline fill="none" stroke="#0fb050" stroke-width="1.4" stroke-linejoin="round" stroke-linecap="round" points="85.00,406.87 102.57,407.16 120.15,402.08 137.72,400.67 155.30,386.57 172.88,369.65 190.45,355.55 208.03,336.37 225.60,320.02 243.18,315.51 260.76,300.84 278.33,288.43 295.91,283.36 313.48,279.13 331.06,270.39 348.64,267.85 366.21,265.31 383.79,262.21 401.36,274.33 418.94,268.98 436.52,286.46 454.09,297.74 471.67,303.94 489.24,318.33 506.82,326.22 524.40,343.99 541.97,358.37 559.55,372.75 577.12,387.13 594.70,392.49 612.28,397.00 629.85,399.54 647.43,402.08"/>
<circle cx="85.00" cy="406.87" r="2.1" fill="#0fb050" stroke="#0fb050" stroke-width="0.8"/>
<circle cx="102.57" cy="407.16" r="2.1" fill="#0fb050" stroke="#0fb050" stroke-width="0.8"/>
<circle cx="120.15" cy="402.08" r="2.1" fill="#0fb050" stroke="#0fb050" stroke-width="0.8"/>
<circle cx="137.72" cy="400.67" r="2.1" fill="#0fb050" stroke="#0fb050" stroke-width="0.8"/>
<circle cx="155.30" cy="386.57" r="2.1" fill="#0fb050" stroke="#0fb050" stroke-width="0.8"/>
<circle cx="172.88" cy="369.65" r="2.1" fill="#0fb050" stroke="#0fb050" stroke-width="0.8"/>
<circle cx="190.45" cy="355.55" r="2.1" fill="#0fb050" stroke="#0fb050" stroke-width="0.8"/>
<circle cx="208.03" cy="336.37" r="2.1" fill="#0fb050" stroke="#0fb050" stroke-width="0.8"/>
<circle cx="225.60" cy="320.02" r="2.1" fill="#0fb050" stroke="#0fb050" stroke-width="0.8"/>
<circle cx="243.18" cy="315.51" r="2.1" fill="#0fb050" stroke="#0fb050" stroke-width="0.8"/>
<circle cx="260.76" cy="300.84" r="2.1" fill="#0fb050" stroke="#0fb050" stroke-width="0.8"/>
<circle cx="278.33" cy="288.43" r="2.1" fill="#0fb050" stroke="#0fb050" stroke-width="0.8"/>
<circle cx="295.91" cy="283.36" r="2.1" fill="#0fb050" stroke="#0fb050" stroke-width="0.8"/>
<circle cx="313.48" cy="279.13" r="2.1" fill="#0fb050" stroke="#0fb050" stroke-width="0.8"/>
<circle cx="331.06" cy="270.39" r="2.1" fill="#0fb050" stroke="#0fb050" stroke-width="0.8"/>
<circle cx="348.64" cy="267.85" r="2.1" fill="#0fb050" stroke="#0fb050" stroke-width="0.8"/>
<circle cx="366.21" cy="265.31" r="2.1" fill="#0fb050" stroke="#0fb050" stroke-width="0.8"/>
<circle cx="383.79" cy="262.21" r="2.1" fill="#0fb050" stroke="#0fb050" stroke-width="0.8"/>
<circle cx="401.36" cy="274.33" r="2.1" fill="#0fb050" stroke="#0fb050" stroke-width="0.8"/>
<circle cx="418.94" cy="268.98" r="2.1" fill="#0fb050" stroke="#0fb050" stroke-width="0.8"/>
<circle cx="436.52" cy="286.46" r="2.1" fill="#0fb050" stroke="#0fb050" stroke-width="0.8"/>
<circle cx="454.09" cy="297.74" r="2.1" fill="#0fb050" stroke="#0fb050" stroke-width="0.8"/>
<circle cx="471.67" cy="303.94" r="2.1" fill="#0fb050" stroke="#0fb050" stroke-width="0.8"/>
<circle cx="489.24" cy="318.33" r="2.1" fill="#0fb050" stroke="#0fb050" stroke-width="0.8"/>
<circle cx="506.82" cy="326.22" r="2.1" fill="#0fb050" stroke="#0fb050" stroke-width="0.8"/>
<circle cx="524.40" cy="343.99" r="2.1" fill="#0fb050" stroke="#0fb050" stroke-width="0.8"/>
<circle cx="541.97" cy="358.37" r="2.1" fill="#0fb050" stroke="#0fb050" stroke-width="0.8"/>
<circle cx="559.55" cy="372.75" r="2.1" fill="#0fb050" stroke="#0fb050" stroke-width="0.8"/>
<circle cx="577.12" cy="387.13" r="2.1" fill="#0fb050" stroke="#0fb050" stroke-width="0.8"/>
<circle cx="594.70" cy="392.49" r="2.1" fill="#0fb050" stroke="#0fb050" stroke-width="0.8"/>
<circle cx="612.28" cy="397.00" r="2.1" fill="#0fb050" stroke="#0fb050" stroke-width="0.8"/>
<circle cx="629.85" cy="399.54" r="2.1" fill="#0fb050" stroke="#0fb050" stroke-width="0.8"/>
<circle cx="647.43" cy="402.08" r="2.1" fill="#0fb050" stroke="#0fb050" stroke-width="0.8"/>
<polyline fill="none" stroke="#000000" stroke-width="1.5" stroke-linejoin="round" stroke-linecap="round" points="85.00,403.49 102.57,404.34 120.15,401.23 137.72,400.67 155.30,385.16 172.88,374.16 190.45,364.29 208.03,349.35 225.60,335.53 243.18,327.91 260.76,317.76 278.33,306.48 295.91,300.28 313.48,295.20 331.06,290.41 348.64,284.77 366.21,286.46 383.79,282.79 401.36,288.43 418.94,283.92 436.52,295.77 454.09,300.84 471.67,306.48 489.24,318.33 506.82,325.94 524.40,336.66 541.97,349.63 559.55,362.04 577.12,374.73 594.70,381.78 612.28,386.01 629.85,389.67 647.43,392.49"/>
<circle cx="85.00" cy="403.49" r="2.1" fill="#000000" stroke="#000000" stroke-width="0.8"/>
<circle cx="102.57" cy="404.34" r="2.1" fill="#000000" stroke="#000000" stroke-width="0.8"/>
<circle cx="120.15" cy="401.23" r="2.1" fill="#000000" stroke="#000000" stroke-width="0.8"/>
<circle cx="137.72" cy="400.67" r="2.1" fill="#000000" stroke="#000000" stroke-width="0.8"/>
<circle cx="155.30" cy="385.16" r="2.1" fill="#000000" stroke="#000000" stroke-width="0.8"/>
<circle cx="172.88" cy="374.16" r="2.1" fill="#000000" stroke="#000000" stroke-width="0.8"/>
<circle cx="190.45" cy="364.29" r="2.1" fill="#000000" stroke="#000000" stroke-width="0.8"/>
<circle cx="208.03" cy="349.35" r="2.1" fill="#000000" stroke="#000000" stroke-width="0.8"/>
<circle cx="225.60" cy="335.53" r="2.1" fill="#000000" stroke="#000000" stroke-width="0.8"/>
<circle cx="243.18" cy="327.91" r="2.1" fill="#000000" stroke="#000000" stroke-width="0.8"/>
<circle cx="260.76" cy="317.76" r="2.1" fill="#000000" stroke="#000000" stroke-width="0.8"/>
<circle cx="278.33" cy="306.48" r="2.1" fill="#000000" stroke="#000000" stroke-width="0.8"/>
<circle cx="295.91" cy="300.28" r="2.1" fill="#000000" stroke="#000000" stroke-width="0.8"/>
<circle cx="313.48" cy="295.20" r="2.1" fill="#000000" stroke="#000000" stroke-width="0.8"/>
<circle cx="331.06" cy="290.41" r="2.1" fill="#000000" stroke="#000000" stroke-width="0.8"/>
<circle cx="348.64" cy="284.77" r="2.1" fill="#000000" stroke="#000000" stroke-width="0.8"/>
<circle cx="366.21" cy="286.46" r="2.1" fill="#000000" stroke="#000000" stroke-width="0.8"/>
<circle cx="383.79" cy="282.79" r="2.1" fill="#000000" stroke="#000000" stroke-width="0.8"/>
<circle cx="401.36" cy="288.43" r="2.1" fill="#000000" stroke="#000000" stroke-width="0.8"/>
<circle cx="418.94" cy="283.92" r="2.1" fill="#000000" stroke="#000000" stroke-width="0.8"/>
<circle cx="436.52" cy="295.77" r="2.1" fill="#000000" stroke="#000000" stroke-width="0.8"/>
<circle cx="454.09" cy="300.84" r="2.1" fill="#000000" stroke="#000000" stroke-width="0.8"/>
<circle cx="471.67" cy="306.48" r="2.1" fill="#000000" stroke="#000000" stroke-width="0.8"/>
<circle cx="489.24" cy="318.33" r="2.1" fill="#000000" stroke="#000000" stroke-width="0.8"/>
<circle cx="506.82" cy="325.94" r="2.1" fill="#000000" stroke="#000000" stroke-width="0.8"/>
<circle cx="524.40" cy="336.66" r="2.1" fill="#000000" stroke="#000000" stroke-width="0.8"/>
<circle cx="541.97" cy="349.63" r="2.1" fill="#000000" stroke="#000000" stroke-width="0.8"/>
<circle cx="559.55" cy="362.04" r="2.1" fill="#000000" stroke="#000000" stroke-width="0.8"/>
<circle cx="577.12" cy="374.73" r="2.1" fill="#000000" stroke="#000000" stroke-width="0.8"/>
<circle cx="594.70" cy="381.78" r="2.1" fill="#000000" stroke="#000000" stroke-width="0.8"/>
<circle cx="612.28" cy="386.01" r="2.1" fill="#000000" stroke="#000000" stroke-width="0.8"/>
<circle cx="629.85" cy="389.67" r="2.1" fill="#000000" stroke="#000000" stroke-width="0.8"/>
<circle cx="647.43" cy="392.49" r="2.1" fill="#000000" stroke="#000000" stroke-width="0.8"/>
<polyline fill="none" stroke="#bfbfbf" stroke-width="1.35" stroke-linejoin="round" stroke-linecap="round" points="85.00,403.49 102.57,404.05 120.15,403.49 137.72,405.18 155.30,401.52 172.88,399.26 190.45,396.44 208.03,387.98 225.60,382.06 243.18,374.44 260.76,362.60 278.33,355.55 295.91,349.35 313.48,339.48 331.06,333.27 348.64,328.76 366.21,328.76 383.79,325.38 401.36,327.35 418.94,328.76 436.52,333.27 454.09,333.27 471.67,337.22 489.24,343.14 506.82,347.65 524.40,354.99 541.97,362.60 559.55,370.21 577.12,377.26 594.70,383.47 612.28,387.98 629.85,391.36 647.43,396.44"/>
<circle cx="85.00" cy="403.49" r="2.0" fill="#bfbfbf" stroke="#bfbfbf" stroke-width="0.8"/>
<circle cx="102.57" cy="404.05" r="2.0" fill="#bfbfbf" stroke="#bfbfbf" stroke-width="0.8"/>
<circle cx="120.15" cy="403.49" r="2.0" fill="#bfbfbf" stroke="#bfbfbf" stroke-width="0.8"/>
<circle cx="137.72" cy="405.18" r="2.0" fill="#bfbfbf" stroke="#bfbfbf" stroke-width="0.8"/>
<circle cx="155.30" cy="401.52" r="2.0" fill="#bfbfbf" stroke="#bfbfbf" stroke-width="0.8"/>
<circle cx="172.88" cy="399.26" r="2.0" fill="#bfbfbf" stroke="#bfbfbf" stroke-width="0.8"/>
<circle cx="190.45" cy="396.44" r="2.0" fill="#bfbfbf" stroke="#bfbfbf" stroke-width="0.8"/>
<circle cx="208.03" cy="387.98" r="2.0" fill="#bfbfbf" stroke="#bfbfbf" stroke-width="0.8"/>
<circle cx="225.60" cy="382.06" r="2.0" fill="#bfbfbf" stroke="#bfbfbf" stroke-width="0.8"/>
<circle cx="243.18" cy="374.44" r="2.0" fill="#bfbfbf" stroke="#bfbfbf" stroke-width="0.8"/>
<circle cx="260.76" cy="362.60" r="2.0" fill="#bfbfbf" stroke="#bfbfbf" stroke-width="0.8"/>
<circle cx="278.33" cy="355.55" r="2.0" fill="#bfbfbf" stroke="#bfbfbf" stroke-width="0.8"/>
<circle cx="295.91" cy="349.35" r="2.0" fill="#bfbfbf" stroke="#bfbfbf" stroke-width="0.8"/>
<circle cx="313.48" cy="339.48" r="2.0" fill="#bfbfbf" stroke="#bfbfbf" stroke-width="0.8"/>
<circle cx="331.06" cy="333.27" r="2.0" fill="#bfbfbf" stroke="#bfbfbf" stroke-width="0.8"/>
<circle cx="348.64" cy="328.76" r="2.0" fill="#bfbfbf" stroke="#bfbfbf" stroke-width="0.8"/>
<circle cx="366.21" cy="328.76" r="2.0" fill="#bfbfbf" stroke="#bfbfbf" stroke-width="0.8"/>
<circle cx="383.79" cy="325.38" r="2.0" fill="#bfbfbf" stroke="#bfbfbf" stroke-width="0.8"/>
<circle cx="401.36" cy="327.35" r="2.0" fill="#bfbfbf" stroke="#bfbfbf" stroke-width="0.8"/>
<circle cx="418.94" cy="328.76" r="2.0" fill="#bfbfbf" stroke="#bfbfbf" stroke-width="0.8"/>
<circle cx="436.52" cy="333.27" r="2.0" fill="#bfbfbf" stroke="#bfbfbf" stroke-width="0.8"/>
<circle cx="454.09" cy="333.27" r="2.0" fill="#bfbfbf" stroke="#bfbfbf" stroke-width="0.8"/>
<circle cx="471.67" cy="337.22" r="2.0" fill="#bfbfbf" stroke="#bfbfbf" stroke-width="0.8"/>
<circle cx="489.24" cy="343.14" r="2.0" fill="#bfbfbf" stroke="#bfbfbf" stroke-width="0.8"/>
<circle cx="506.82" cy="347.65" r="2.0" fill="#bfbfbf" stroke="#bfbfbf" stroke-width="0.8"/>
<circle cx="524.40" cy="354.99" r="2.0" fill="#bfbfbf" stroke="#bfbfbf" stroke-width="0.8"/>
<circle cx="541.97" cy="362.60" r="2.0" fill="#bfbfbf" stroke="#bfbfbf" stroke-width="0.8"/>
<circle cx="559.55" cy="370.21" r="2.0" fill="#bfbfbf" stroke="#bfbfbf" stroke-width="0.8"/>
<circle cx="577.12" cy="377.26" r="2.0" fill="#bfbfbf" stroke="#bfbfbf" stroke-width="0.8"/>
<circle cx="594.70" cy="383.47" r="2.0" fill="#bfbfbf" stroke="#bfbfbf" stroke-width="0.8"/>
<circle cx="612.28" cy="387.98" r="2.0" fill="#bfbfbf" stroke="#bfbfbf" stroke-width="0.8"/>
<circle cx="629.85" cy="391.36" r="2.0" fill="#bfbfbf" stroke="#bfbfbf" stroke-width="0.8"/>
<circle cx="647.43" cy="396.44" r="2.0" fill="#bfbfbf" stroke="#bfbfbf" stroke-width="0.8"/>
<polyline fill="none" stroke="#858585" stroke-width="1.35" stroke-linejoin="round" stroke-linecap="round" points="85.00,401.52 102.57,402.36 120.15,400.67 137.72,399.54 155.30,393.06 172.88,387.13 190.45,378.11 208.03,367.68 225.60,355.27 243.18,343.14 260.76,329.61 278.33,318.89 295.91,310.71 313.48,298.30 331.06,290.41 348.64,285.90 366.21,283.92 383.79,279.69 401.36,283.92 418.94,283.92 436.52,290.69 454.09,291.54 471.67,297.74 489.24,305.92 506.82,313.25 524.40,325.09 541.97,338.21 559.55,350.76 577.12,362.04 594.70,369.09 612.28,376.14 629.85,381.49 647.43,386.01"/>
<circle cx="85.00" cy="401.52" r="2.1" fill="#858585" stroke="#858585" stroke-width="0.8"/>
<circle cx="102.57" cy="402.36" r="2.1" fill="#858585" stroke="#858585" stroke-width="0.8"/>
<circle cx="120.15" cy="400.67" r="2.1" fill="#858585" stroke="#858585" stroke-width="0.8"/>
<circle cx="137.72" cy="399.54" r="2.1" fill="#858585" stroke="#858585" stroke-width="0.8"/>
<circle cx="155.30" cy="393.06" r="2.1" fill="#858585" stroke="#858585" stroke-width="0.8"/>
<circle cx="172.88" cy="387.13" r="2.1" fill="#858585" stroke="#858585" stroke-width="0.8"/>
<circle cx="190.45" cy="378.11" r="2.1" fill="#858585" stroke="#858585" stroke-width="0.8"/>
<circle cx="208.03" cy="367.68" r="2.1" fill="#858585" stroke="#858585" stroke-width="0.8"/>
<circle cx="225.60" cy="355.27" r="2.1" fill="#858585" stroke="#858585" stroke-width="0.8"/>
<circle cx="243.18" cy="343.14" r="2.1" fill="#858585" stroke="#858585" stroke-width="0.8"/>
<circle cx="260.76" cy="329.61" r="2.1" fill="#858585" stroke="#858585" stroke-width="0.8"/>
<circle cx="278.33" cy="318.89" r="2.1" fill="#858585" stroke="#858585" stroke-width="0.8"/>
<circle cx="295.91" cy="310.71" r="2.1" fill="#858585" stroke="#858585" stroke-width="0.8"/>
<circle cx="313.48" cy="298.30" r="2.1" fill="#858585" stroke="#858585" stroke-width="0.8"/>
<circle cx="331.06" cy="290.41" r="2.1" fill="#858585" stroke="#858585" stroke-width="0.8"/>
<circle cx="348.64" cy="285.90" r="2.1" fill="#858585" stroke="#858585" stroke-width="0.8"/>
<circle cx="366.21" cy="283.92" r="2.1" fill="#858585" stroke="#858585" stroke-width="0.8"/>
<circle cx="383.79" cy="279.69" r="2.1" fill="#858585" stroke="#858585" stroke-width="0.8"/>
<circle cx="401.36" cy="283.92" r="2.1" fill="#858585" stroke="#858585" stroke-width="0.8"/>
<circle cx="418.94" cy="283.92" r="2.1" fill="#858585" stroke="#858585" stroke-width="0.8"/>
<circle cx="436.52" cy="290.69" r="2.1" fill="#858585" stroke="#858585" stroke-width="0.8"/>
<circle cx="454.09" cy="291.54" r="2.1" fill="#858585" stroke="#858585" stroke-width="0.8"/>
<circle cx="471.67" cy="297.74" r="2.1" fill="#858585" stroke="#858585" stroke-width="0.8"/>
<circle cx="489.24" cy="305.92" r="2.1" fill="#858585" stroke="#858585" stroke-width="0.8"/>
<circle cx="506.82" cy="313.25" r="2.1" fill="#858585" stroke="#858585" stroke-width="0.8"/>
<circle cx="524.40" cy="325.09" r="2.1" fill="#858585" stroke="#858585" stroke-width="0.8"/>
<circle cx="541.97" cy="338.21" r="2.1" fill="#858585" stroke="#858585" stroke-width="0.8"/>
<circle cx="559.55" cy="350.76" r="2.1" fill="#858585" stroke="#858585" stroke-width="0.8"/>
<circle cx="577.12" cy="362.04" r="2.1" fill="#858585" stroke="#858585" stroke-width="0.8"/>
<circle cx="594.70" cy="369.09" r="2.1" fill="#858585" stroke="#858585" stroke-width="0.8"/>
<circle cx="612.28" cy="376.14" r="2.1" fill="#858585" stroke="#858585" stroke-width="0.8"/>
<circle cx="629.85" cy="381.49" r="2.1" fill="#858585" stroke="#858585" stroke-width="0.8"/>
<circle cx="647.43" cy="386.01" r="2.1" fill="#858585" stroke="#858585" stroke-width="0.8"/>
<line x1="542.1" y1="244.40" x2="560.5" y2="244.40" stroke="#ee1c1c" stroke-width="1.35"/>
<circle cx="551.30" cy="244.40" r="2.1" fill="#ee1c1c" stroke="#ee1c1c" stroke-width="0.8"/>
<text x="562.5" y="247.70" font-size="10.6" fill="#333333" textLength="50.5" lengthAdjust="spacingAndGlyphs">pavers (red)</text>
<line x1="542.1" y1="258.82" x2="560.5" y2="258.82" stroke="#ffeeb0" stroke-width="1.3"/>
<circle cx="551.30" cy="258.82" r="2.1" fill="#ffe27a" stroke="#eda700" stroke-width="1.1"/>
<text x="562.5" y="262.12" font-size="10.6" fill="#333333" textLength="79" lengthAdjust="spacingAndGlyphs">pavers (sandstone)</text>
<line x1="542.1" y1="273.24" x2="560.5" y2="273.24" stroke="#0fb050" stroke-width="1.4"/>
<circle cx="551.30" cy="273.24" r="2.1" fill="#0fb050" stroke="#0fb050" stroke-width="0.8"/>
<text x="562.5" y="276.54" font-size="10.6" fill="#333333" textLength="59" lengthAdjust="spacingAndGlyphs">artificial grass</text>
<line x1="542.1" y1="287.66" x2="560.5" y2="287.66" stroke="#000000" stroke-width="1.5"/>
<circle cx="551.30" cy="287.66" r="2.1" fill="#000000" stroke="#000000" stroke-width="0.8"/>
<text x="562.5" y="290.96" font-size="10.6" fill="#333333" textLength="30.5" lengthAdjust="spacingAndGlyphs">asphalt</text>
<line x1="542.1" y1="302.08" x2="560.5" y2="302.08" stroke="#bfbfbf" stroke-width="1.35"/>
<circle cx="551.30" cy="302.08" r="2.0" fill="#bfbfbf" stroke="#bfbfbf" stroke-width="0.8"/>
<text x="562.5" y="305.38" font-size="10.6" fill="#333333" textLength="112.3" lengthAdjust="spacingAndGlyphs">concrete (slab 40mm thick)</text>
<line x1="542.1" y1="316.50" x2="560.5" y2="316.50" stroke="#858585" stroke-width="1.35"/>
<circle cx="551.30" cy="316.50" r="2.1" fill="#858585" stroke="#858585" stroke-width="0.8"/>
<text x="562.5" y="319.80" font-size="10.6" fill="#333333" textLength="55" lengthAdjust="spacingAndGlyphs">pavers (grey)</text>
<text x="99.8" y="33.2" font-size="12" fill="#333333">a)</text>
<text x="100.5" y="253.2" font-size="12" fill="#333333">b)</text>
<text transform="translate(32.4,120.6) rotate(-90)" text-anchor="middle" font-size="15" fill="#333333" textLength="86.0" lengthAdjust="spacingAndGlyphs">T<tspan font-size="10" dy="3.4">app</tspan><tspan dy="-3.4"> − T</tspan><tspan font-size="10" dy="3.4">amb</tspan><tspan dy="-3.4"> (°C)</tspan></text>
<text transform="translate(31.9,342.8) rotate(-90)" text-anchor="middle" font-size="15" fill="#333333" textLength="86.0" lengthAdjust="spacingAndGlyphs">T<tspan font-size="10" dy="3.4">app</tspan><tspan dy="-3.4"> − T</tspan><tspan font-size="10" dy="3.4">amb</tspan><tspan dy="-3.4"> (°C)</tspan></text>
<g class="cap">
<text x="38.6" y="474.0" font-size="14.2" fill="#222" textLength="55.6" lengthAdjust="spacingAndGlyphs" font-weight="bold">Figure 7.</text>
<text x="100.3" y="474.0" font-size="14.2" fill="#222" textLength="58.9" lengthAdjust="spacingAndGlyphs">Apparent</text>
<text x="163.3" y="474.0" font-size="14.2" fill="#222" textLength="77.1" lengthAdjust="spacingAndGlyphs">temperature</text>
<text x="243.3" y="474.0" font-size="14.2" fill="#222" textLength="37.4" lengthAdjust="spacingAndGlyphs">minus</text>
<text x="285.4" y="474.0" font-size="14.2" fill="#222" textLength="50.3" lengthAdjust="spacingAndGlyphs">ambient</text>
<text x="339.5" y="474.0" font-size="14.2" fill="#222" textLength="75.0" lengthAdjust="spacingAndGlyphs">temperature</text>
<text x="419.6" y="474.0" font-size="14.2" fill="#222" textLength="16.9" lengthAdjust="spacingAndGlyphs">for</text>
<text x="440.2" y="474.0" font-size="14.2" fill="#222" textLength="27.3" lengthAdjust="spacingAndGlyphs">each</text>
<text x="472.6" y="474.0" font-size="14.2" fill="#222" textLength="18.4" lengthAdjust="spacingAndGlyphs">LE</text>
<text x="495.5" y="474.0" font-size="14.2" fill="#222" textLength="13.9" lengthAdjust="spacingAndGlyphs">on</text>
<text x="513.0" y="474.0" font-size="14.2" fill="#222" textLength="11.7" lengthAdjust="spacingAndGlyphs">21</text>
<text x="538.8" y="474.0" font-size="14.2" fill="#222" textLength="19.4" lengthAdjust="spacingAndGlyphs">Jan</text>
<text x="562.8" y="474.0" font-size="14.2" fill="#222" textLength="30.6" lengthAdjust="spacingAndGlyphs">2019:</text>
<text x="598.5" y="474.0" font-size="14.2" fill="#222" textLength="15.6" lengthAdjust="spacingAndGlyphs">(<tspan font-weight="bold">a</tspan>)</text>
<text x="619.2" y="474.0" font-size="14.2" fill="#222" textLength="21.9" lengthAdjust="spacingAndGlyphs">soft</text>
<text x="645.5" y="474.0" font-size="14.2" fill="#222" textLength="22.9" lengthAdjust="spacingAndGlyphs">and</text>
<text x="525.8" y="469.0" font-size="10.2" fill="#222" textLength="8.0" lengthAdjust="spacingAndGlyphs" style="stroke-width:0.05px">st</text>
<text x="38.6" y="495.2" font-size="14.2" fill="#222" textLength="54.0" lengthAdjust="spacingAndGlyphs">pervious</text>
<text x="97.6" y="495.2" font-size="14.2" fill="#222" textLength="26.2" lengthAdjust="spacingAndGlyphs">LEs;</text>
<text x="128.0" y="495.2" font-size="14.2" fill="#222" textLength="17.0" lengthAdjust="spacingAndGlyphs">(<tspan font-weight="bold">b</tspan>)</text>
<text x="149.4" y="495.2" font-size="14.2" fill="#222" textLength="27.4" lengthAdjust="spacingAndGlyphs">hard</text>
<text x="181.2" y="495.2" font-size="14.2" fill="#222" textLength="23.3" lengthAdjust="spacingAndGlyphs">and</text>
<text x="208.9" y="495.2" font-size="14.2" fill="#222" textLength="87.3" lengthAdjust="spacingAndGlyphs">manufactured</text>
<text x="301.3" y="495.2" font-size="14.2" fill="#222" textLength="26.3" lengthAdjust="spacingAndGlyphs">LEs.</text>
</g>
<text x="350.6" y="501.3" font-size="19.7" fill="#1a1a1a" font-family='"Liberation Sans", sans-serif' textLength="76.8" lengthAdjust="spacingAndGlyphs" style="stroke:none">Source:</text>
<text x="433.9" y="501.3" font-size="19.7" fill="#1a1a1a" font-family='"Liberation Sans", sans-serif' textLength="83.7" lengthAdjust="spacingAndGlyphs" style="stroke:none">Loveday</text>
<text x="526.3" y="501.3" font-size="19.7" fill="#1a1a1a" font-family='"Liberation Sans", sans-serif' textLength="19.9" lengthAdjust="spacingAndGlyphs" style="stroke:none">et</text>
<text x="552.8" y="501.3" font-size="19.7" fill="#1a1a1a" font-family='"Liberation Sans", sans-serif' textLength="16.2" lengthAdjust="spacingAndGlyphs" style="stroke:none">al</text>
<text x="578.0" y="501.3" font-size="19.7" fill="#1a1a1a" font-family='"Liberation Sans", sans-serif' textLength="66.6" lengthAdjust="spacingAndGlyphs" style="stroke:none">(2019)</text>
</svg>
</body></html>
